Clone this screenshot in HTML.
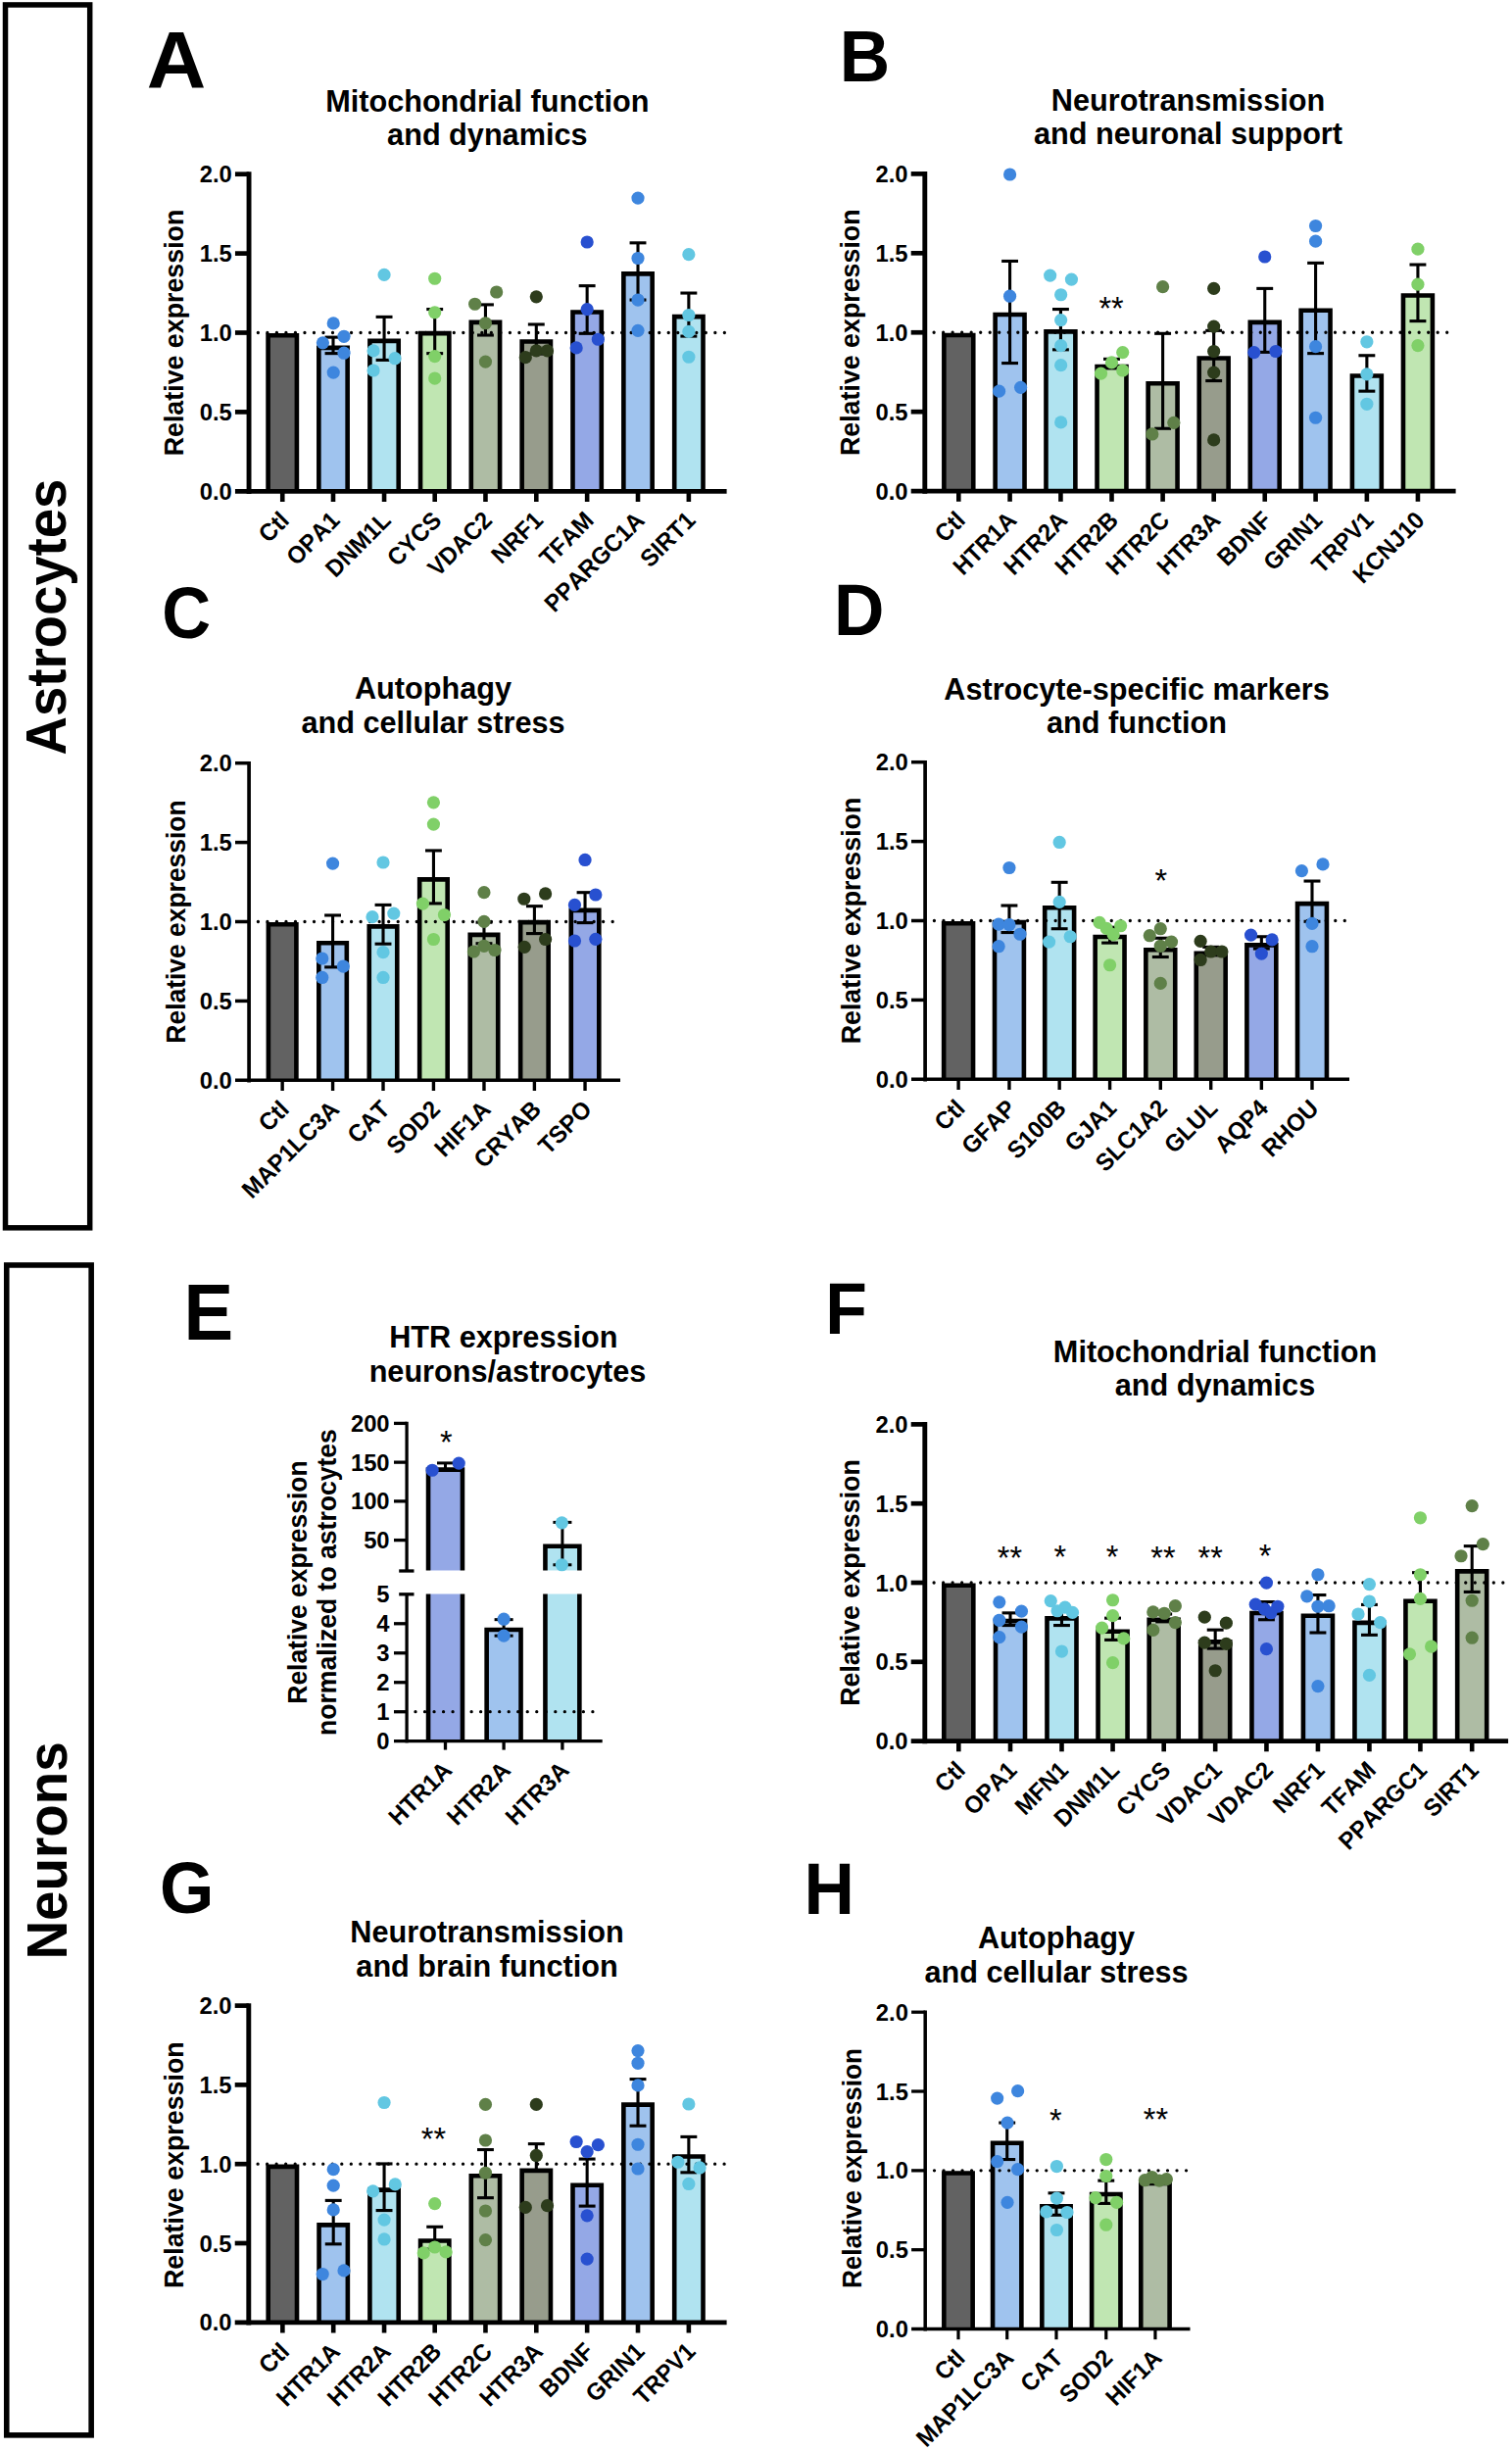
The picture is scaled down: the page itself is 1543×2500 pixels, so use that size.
<!DOCTYPE html>
<html lang="en">
<head>
<meta charset="utf-8">
<title>Figure: Relative expression in astrocytes and neurons</title>
<style>
html,body{margin:0;padding:0;background:#fff;}
body{width:1543px;height:2500px;overflow:hidden;}
svg{display:block;}
svg text{font-kerning:none;font-family:"Liberation Sans",Arial,Helvetica,sans-serif;fill:#000;}
</style>
</head>
<body>
<svg width="1543" height="2500" viewBox="0 0 1543 2500">
<rect x="0" y="0" width="1543" height="2500" fill="#fff"/>
<rect x="5.5" y="4.95" width="86.2" height="1247.9" fill="none" stroke="#000" stroke-width="5.5"/>
<rect x="6.75" y="1290.95" width="86.4" height="1193.9" fill="none" stroke="#000" stroke-width="5.6"/>
<text transform="translate(67,770.4) rotate(-90) scale(1,1.04)" font-size="54.5" font-weight="bold" text-anchor="start">Astrocytes</text>
<text transform="translate(68.1,1999.5) rotate(-90) scale(1,1.06)" font-size="54.8" font-weight="bold" text-anchor="start">Neurons</text>
<rect x="273.6" y="342.2" width="29.3" height="159.1" fill="#626262"/>
<path d="M273.6 501.3V342.2H302.9V501.3" fill="none" stroke="#000" stroke-width="4.6"/>
<rect x="325.35" y="354.89" width="29.3" height="146.41" fill="#9FC3EE"/>
<path d="M325.35 501.3V354.89H354.65V501.3" fill="none" stroke="#000" stroke-width="4.6"/>
<rect x="377.41" y="347.91" width="29.3" height="153.39" fill="#B0E3F0"/>
<path d="M377.41 501.3V347.91H406.71V501.3" fill="none" stroke="#000" stroke-width="4.6"/>
<rect x="429.05" y="340.08" width="29.3" height="161.22" fill="#C0E6B2"/>
<path d="M429.05 501.3V340.08H458.35V501.3" fill="none" stroke="#000" stroke-width="4.6"/>
<rect x="480.8" y="328.86" width="29.3" height="172.44" fill="#AEBCA4"/>
<path d="M480.8 501.3V328.86H510.1V501.3" fill="none" stroke="#000" stroke-width="4.6"/>
<rect x="532.65" y="348.54" width="29.3" height="152.76" fill="#979C8C"/>
<path d="M532.65 501.3V348.54H561.95V501.3" fill="none" stroke="#000" stroke-width="4.6"/>
<rect x="584.5" y="318.49" width="29.3" height="182.81" fill="#94A8E6"/>
<path d="M584.5 501.3V318.49H613.8V501.3" fill="none" stroke="#000" stroke-width="4.6"/>
<rect x="636.36" y="279.34" width="29.3" height="221.96" fill="#9FC3EE"/>
<path d="M636.36 501.3V279.34H665.66V501.3" fill="none" stroke="#000" stroke-width="4.6"/>
<rect x="688.21" y="323.15" width="29.3" height="178.15" fill="#B0E3F0"/>
<path d="M688.21 501.3V323.15H717.51V501.3" fill="none" stroke="#000" stroke-width="4.6"/>
<line x1="263.35" y1="339.5" x2="742.5" y2="339.5" stroke="#000" stroke-width="3.3" stroke-dasharray="0.01 9.51" stroke-linecap="round"/>
<line x1="340" y1="344.13" x2="340" y2="360.63" stroke="#000" stroke-width="3.1" />
<line x1="331.55" y1="344.13" x2="348.45" y2="344.13" stroke="#000" stroke-width="3.1" />
<line x1="331.55" y1="360.63" x2="348.45" y2="360.63" stroke="#000" stroke-width="3.1" />
<line x1="392.06" y1="323.39" x2="392.06" y2="367.41" stroke="#000" stroke-width="3.1" />
<line x1="383.61" y1="323.39" x2="400.51" y2="323.39" stroke="#000" stroke-width="3.1" />
<line x1="383.61" y1="367.41" x2="400.51" y2="367.41" stroke="#000" stroke-width="3.1" />
<line x1="443.7" y1="315.56" x2="443.7" y2="360.63" stroke="#000" stroke-width="3.1" />
<line x1="435.25" y1="315.56" x2="452.15" y2="315.56" stroke="#000" stroke-width="3.1" />
<line x1="435.25" y1="360.63" x2="452.15" y2="360.63" stroke="#000" stroke-width="3.1" />
<line x1="495.45" y1="310.9" x2="495.45" y2="342.01" stroke="#000" stroke-width="3.1" />
<line x1="487" y1="310.9" x2="503.9" y2="310.9" stroke="#000" stroke-width="3.1" />
<line x1="487" y1="342.01" x2="503.9" y2="342.01" stroke="#000" stroke-width="3.1" />
<line x1="547.3" y1="331.01" x2="547.3" y2="361.06" stroke="#000" stroke-width="3.1" />
<line x1="538.85" y1="331.01" x2="555.75" y2="331.01" stroke="#000" stroke-width="3.1" />
<line x1="538.85" y1="361.06" x2="555.75" y2="361.06" stroke="#000" stroke-width="3.1" />
<line x1="599.15" y1="291.64" x2="599.15" y2="340.32" stroke="#000" stroke-width="3.1" />
<line x1="590.7" y1="291.64" x2="607.6" y2="291.64" stroke="#000" stroke-width="3.1" />
<line x1="590.7" y1="340.32" x2="607.6" y2="340.32" stroke="#000" stroke-width="3.1" />
<line x1="651.01" y1="247.83" x2="651.01" y2="306.03" stroke="#000" stroke-width="3.1" />
<line x1="642.56" y1="247.83" x2="659.46" y2="247.83" stroke="#000" stroke-width="3.1" />
<line x1="642.56" y1="306.03" x2="659.46" y2="306.03" stroke="#000" stroke-width="3.1" />
<line x1="702.86" y1="299.05" x2="702.86" y2="343.07" stroke="#000" stroke-width="3.1" />
<line x1="694.41" y1="299.05" x2="711.31" y2="299.05" stroke="#000" stroke-width="3.1" />
<line x1="694.41" y1="343.07" x2="711.31" y2="343.07" stroke="#000" stroke-width="3.1" />
<circle cx="340.21" cy="329.95" r="6.6" fill="#3E86DE"/>
<circle cx="351.01" cy="343.28" r="6.6" fill="#3E86DE"/>
<circle cx="329.42" cy="349.84" r="6.6" fill="#3E86DE"/>
<circle cx="351.01" cy="360.21" r="6.6" fill="#3E86DE"/>
<circle cx="340.21" cy="380.11" r="6.6" fill="#3E86DE"/>
<circle cx="392.06" cy="280.42" r="6.6" fill="#62C7E2"/>
<circle cx="381.06" cy="357.88" r="6.6" fill="#62C7E2"/>
<circle cx="403.07" cy="365.71" r="6.6" fill="#62C7E2"/>
<circle cx="381.06" cy="377.99" r="6.6" fill="#62C7E2"/>
<circle cx="443.7" cy="284.23" r="6.6" fill="#80D068"/>
<circle cx="443.7" cy="318.73" r="6.6" fill="#80D068"/>
<circle cx="443.7" cy="363.6" r="6.6" fill="#80D068"/>
<circle cx="443.7" cy="386.03" r="6.6" fill="#80D068"/>
<circle cx="484.66" cy="310.26" r="6.6" fill="#5F8048"/>
<circle cx="506.67" cy="297.99" r="6.6" fill="#5F8048"/>
<circle cx="495.45" cy="329.74" r="6.6" fill="#5F8048"/>
<circle cx="495.45" cy="369.1" r="6.6" fill="#5F8048"/>
<circle cx="547.3" cy="302.86" r="6.6" fill="#2D3C1C"/>
<circle cx="536.3" cy="364.66" r="6.6" fill="#2D3C1C"/>
<circle cx="547.3" cy="357.88" r="6.6" fill="#2D3C1C"/>
<circle cx="558.52" cy="357.88" r="6.6" fill="#2D3C1C"/>
<circle cx="599.15" cy="246.98" r="6.6" fill="#2850D0"/>
<circle cx="599.15" cy="315.56" r="6.6" fill="#2850D0"/>
<circle cx="610.37" cy="346.24" r="6.6" fill="#2850D0"/>
<circle cx="588.15" cy="354.92" r="6.6" fill="#2850D0"/>
<circle cx="651.01" cy="202.12" r="6.6" fill="#3E86DE"/>
<circle cx="651.01" cy="263.49" r="6.6" fill="#3E86DE"/>
<circle cx="651.01" cy="306.03" r="6.6" fill="#3E86DE"/>
<circle cx="651.01" cy="337.35" r="6.6" fill="#3E86DE"/>
<circle cx="702.86" cy="259.68" r="6.6" fill="#62C7E2"/>
<circle cx="702.86" cy="321.48" r="6.6" fill="#62C7E2"/>
<circle cx="702.86" cy="338.41" r="6.6" fill="#62C7E2"/>
<circle cx="702.86" cy="364.23" r="6.6" fill="#62C7E2"/>
<line x1="254.05" y1="175.35" x2="254.05" y2="504.05" stroke="#000" stroke-width="4.9" />
<line x1="239.95" y1="501.3" x2="741.6" y2="501.3" stroke="#000" stroke-width="4.7" />
<text transform="translate(236.75,509.82) scale(1,1.04)" font-size="23.8" font-weight="bold" text-anchor="end" >0.0</text>
<line x1="239.95" y1="420.4" x2="254.05" y2="420.4" stroke="#000" stroke-width="4.7" />
<text transform="translate(236.75,428.92) scale(1,1.04)" font-size="23.8" font-weight="bold" text-anchor="end" >0.5</text>
<line x1="239.95" y1="339.5" x2="254.05" y2="339.5" stroke="#000" stroke-width="4.7" />
<text transform="translate(236.75,348.02) scale(1,1.04)" font-size="23.8" font-weight="bold" text-anchor="end" >1.0</text>
<line x1="239.95" y1="258.6" x2="254.05" y2="258.6" stroke="#000" stroke-width="4.7" />
<text transform="translate(236.75,267.12) scale(1,1.04)" font-size="23.8" font-weight="bold" text-anchor="end" >1.5</text>
<line x1="239.95" y1="177.7" x2="254.05" y2="177.7" stroke="#000" stroke-width="4.7" />
<text transform="translate(236.75,186.22) scale(1,1.04)" font-size="23.8" font-weight="bold" text-anchor="end" >2.0</text>
<line x1="288.25" y1="501.3" x2="288.25" y2="512" stroke="#000" stroke-width="4.6" />
<text transform="translate(296.45,532.5) rotate(-45) scale(1,1.04)" font-size="23.8" font-weight="bold" text-anchor="end">Ctl</text>
<line x1="340" y1="501.3" x2="340" y2="512" stroke="#000" stroke-width="4.6" />
<text transform="translate(348.2,532.5) rotate(-45) scale(1,1.04)" font-size="23.8" font-weight="bold" text-anchor="end">OPA1</text>
<line x1="392.06" y1="501.3" x2="392.06" y2="512" stroke="#000" stroke-width="4.6" />
<text transform="translate(400.26,532.5) rotate(-45) scale(1,1.04)" font-size="23.8" font-weight="bold" text-anchor="end">DNM1L</text>
<line x1="443.7" y1="501.3" x2="443.7" y2="512" stroke="#000" stroke-width="4.6" />
<text transform="translate(451.9,532.5) rotate(-45) scale(1,1.04)" font-size="23.8" font-weight="bold" text-anchor="end">CYCS</text>
<line x1="495.45" y1="501.3" x2="495.45" y2="512" stroke="#000" stroke-width="4.6" />
<text transform="translate(503.65,532.5) rotate(-45) scale(1,1.04)" font-size="23.8" font-weight="bold" text-anchor="end">VDAC2</text>
<line x1="547.3" y1="501.3" x2="547.3" y2="512" stroke="#000" stroke-width="4.6" />
<text transform="translate(555.5,532.5) rotate(-45) scale(1,1.04)" font-size="23.8" font-weight="bold" text-anchor="end">NRF1</text>
<line x1="599.15" y1="501.3" x2="599.15" y2="512" stroke="#000" stroke-width="4.6" />
<text transform="translate(607.35,532.5) rotate(-45) scale(1,1.04)" font-size="23.8" font-weight="bold" text-anchor="end">TFAM</text>
<line x1="651.01" y1="501.3" x2="651.01" y2="512" stroke="#000" stroke-width="4.6" />
<text transform="translate(659.21,532.5) rotate(-45) scale(1,1.04)" font-size="23.8" font-weight="bold" text-anchor="end">PPARGC1A</text>
<line x1="702.86" y1="501.3" x2="702.86" y2="512" stroke="#000" stroke-width="4.6" />
<text transform="translate(711.06,532.5) rotate(-45) scale(1,1.04)" font-size="23.8" font-weight="bold" text-anchor="end">SIRT1</text>
<text transform="translate(187.3,339.5) rotate(-90) scale(1,1.04)" font-size="26.8" font-weight="bold" text-anchor="middle">Relative expression</text>
<text transform="translate(497.3,113.75) scale(1,1.04)" font-size="30.66" font-weight="bold" text-anchor="middle" >Mitochondrial function</text>
<text transform="translate(497.3,148.35) scale(1,1.04)" font-size="30.66" font-weight="bold" text-anchor="middle" >and dynamics</text>
<text transform="translate(149.7,89.4) scale(1.07,1.04)" font-size="78.3" font-weight="bold">A</text>
<rect x="963.36" y="341.95" width="29.9" height="159.15" fill="#626262"/>
<path d="M963.36 501.1V341.95H993.26V501.1" fill="none" stroke="#000" stroke-width="4.6"/>
<rect x="1015.63" y="321.03" width="29.9" height="180.07" fill="#9FC3EE"/>
<path d="M1015.63 501.1V321.03H1045.53V501.1" fill="none" stroke="#000" stroke-width="4.6"/>
<rect x="1067.48" y="338.38" width="29.9" height="162.72" fill="#B0E3F0"/>
<path d="M1067.48 501.1V338.38H1097.38V501.1" fill="none" stroke="#000" stroke-width="4.6"/>
<rect x="1119.55" y="373.94" width="29.9" height="127.16" fill="#C0E6B2"/>
<path d="M1119.55 501.1V373.94H1149.45V501.1" fill="none" stroke="#000" stroke-width="4.6"/>
<rect x="1171.66" y="391.29" width="29.9" height="109.81" fill="#AEBCA4"/>
<path d="M1171.66 501.1V391.29H1201.56V501.1" fill="none" stroke="#000" stroke-width="4.6"/>
<rect x="1223.73" y="365.47" width="29.9" height="135.63" fill="#979C8C"/>
<path d="M1223.73 501.1V365.47H1253.63V501.1" fill="none" stroke="#000" stroke-width="4.6"/>
<rect x="1275.79" y="328.86" width="29.9" height="172.24" fill="#94A8E6"/>
<path d="M1275.79 501.1V328.86H1305.69V501.1" fill="none" stroke="#000" stroke-width="4.6"/>
<rect x="1327.64" y="316.8" width="29.9" height="184.3" fill="#9FC3EE"/>
<path d="M1327.64 501.1V316.8H1357.54V501.1" fill="none" stroke="#000" stroke-width="4.6"/>
<rect x="1379.92" y="383.46" width="29.9" height="117.64" fill="#B0E3F0"/>
<path d="M1379.92 501.1V383.46H1409.82V501.1" fill="none" stroke="#000" stroke-width="4.6"/>
<rect x="1431.98" y="301.56" width="29.9" height="199.54" fill="#C0E6B2"/>
<path d="M1431.98 501.1V301.56H1461.88V501.1" fill="none" stroke="#000" stroke-width="4.6"/>
<line x1="953.1" y1="339.25" x2="1484" y2="339.25" stroke="#000" stroke-width="3.3" stroke-dasharray="0.01 9.51" stroke-linecap="round"/>
<line x1="1030.58" y1="266.46" x2="1030.58" y2="370.58" stroke="#000" stroke-width="3.1" />
<line x1="1022.13" y1="266.46" x2="1039.03" y2="266.46" stroke="#000" stroke-width="3.1" />
<line x1="1022.13" y1="370.58" x2="1039.03" y2="370.58" stroke="#000" stroke-width="3.1" />
<line x1="1082.43" y1="315.56" x2="1082.43" y2="356.83" stroke="#000" stroke-width="3.1" />
<line x1="1073.98" y1="315.56" x2="1090.88" y2="315.56" stroke="#000" stroke-width="3.1" />
<line x1="1073.98" y1="356.83" x2="1090.88" y2="356.83" stroke="#000" stroke-width="3.1" />
<line x1="1134.5" y1="366.35" x2="1134.5" y2="375.87" stroke="#000" stroke-width="3.1" />
<line x1="1126.05" y1="366.35" x2="1142.95" y2="366.35" stroke="#000" stroke-width="3.1" />
<line x1="1126.05" y1="375.87" x2="1142.95" y2="375.87" stroke="#000" stroke-width="3.1" />
<line x1="1186.61" y1="340.32" x2="1186.61" y2="437.25" stroke="#000" stroke-width="3.1" />
<line x1="1178.16" y1="340.32" x2="1195.06" y2="340.32" stroke="#000" stroke-width="3.1" />
<line x1="1178.16" y1="437.25" x2="1195.06" y2="437.25" stroke="#000" stroke-width="3.1" />
<line x1="1238.68" y1="337.35" x2="1238.68" y2="388.57" stroke="#000" stroke-width="3.1" />
<line x1="1230.23" y1="337.35" x2="1247.13" y2="337.35" stroke="#000" stroke-width="3.1" />
<line x1="1230.23" y1="388.57" x2="1247.13" y2="388.57" stroke="#000" stroke-width="3.1" />
<line x1="1290.74" y1="294.39" x2="1290.74" y2="359.37" stroke="#000" stroke-width="3.1" />
<line x1="1282.29" y1="294.39" x2="1299.19" y2="294.39" stroke="#000" stroke-width="3.1" />
<line x1="1282.29" y1="359.37" x2="1299.19" y2="359.37" stroke="#000" stroke-width="3.1" />
<line x1="1342.59" y1="268.36" x2="1342.59" y2="360.63" stroke="#000" stroke-width="3.1" />
<line x1="1334.14" y1="268.36" x2="1351.04" y2="268.36" stroke="#000" stroke-width="3.1" />
<line x1="1334.14" y1="360.63" x2="1351.04" y2="360.63" stroke="#000" stroke-width="3.1" />
<line x1="1394.87" y1="362.75" x2="1394.87" y2="399.15" stroke="#000" stroke-width="3.1" />
<line x1="1386.42" y1="362.75" x2="1403.32" y2="362.75" stroke="#000" stroke-width="3.1" />
<line x1="1386.42" y1="399.15" x2="1403.32" y2="399.15" stroke="#000" stroke-width="3.1" />
<line x1="1446.93" y1="270.05" x2="1446.93" y2="327.62" stroke="#000" stroke-width="3.1" />
<line x1="1438.48" y1="270.05" x2="1455.38" y2="270.05" stroke="#000" stroke-width="3.1" />
<line x1="1438.48" y1="327.62" x2="1455.38" y2="327.62" stroke="#000" stroke-width="3.1" />
<circle cx="1030.58" cy="177.99" r="6.6" fill="#3E86DE"/>
<circle cx="1030.58" cy="302.22" r="6.6" fill="#3E86DE"/>
<circle cx="1019.58" cy="399.15" r="6.6" fill="#3E86DE"/>
<circle cx="1041.59" cy="395.34" r="6.6" fill="#3E86DE"/>
<circle cx="1071.64" cy="281.06" r="6.6" fill="#62C7E2"/>
<circle cx="1093.44" cy="285.08" r="6.6" fill="#62C7E2"/>
<circle cx="1082.65" cy="300.74" r="6.6" fill="#62C7E2"/>
<circle cx="1082.65" cy="326.56" r="6.6" fill="#62C7E2"/>
<circle cx="1082.65" cy="352.59" r="6.6" fill="#62C7E2"/>
<circle cx="1082.65" cy="372.7" r="6.6" fill="#62C7E2"/>
<circle cx="1082.65" cy="430.9" r="6.6" fill="#62C7E2"/>
<circle cx="1145.71" cy="359.58" r="6.6" fill="#80D068"/>
<circle cx="1134.5" cy="369.95" r="6.6" fill="#80D068"/>
<circle cx="1123.49" cy="381.16" r="6.6" fill="#80D068"/>
<circle cx="1145.71" cy="377.99" r="6.6" fill="#80D068"/>
<circle cx="1186.61" cy="292.7" r="6.6" fill="#5F8048"/>
<circle cx="1197.83" cy="431.32" r="6.6" fill="#5F8048"/>
<circle cx="1175.82" cy="442.96" r="6.6" fill="#5F8048"/>
<circle cx="1238.68" cy="294.39" r="6.6" fill="#2D3C1C"/>
<circle cx="1238.68" cy="333.12" r="6.6" fill="#2D3C1C"/>
<circle cx="1238.68" cy="358.52" r="6.6" fill="#2D3C1C"/>
<circle cx="1238.68" cy="380.11" r="6.6" fill="#2D3C1C"/>
<circle cx="1238.68" cy="448.89" r="6.6" fill="#2D3C1C"/>
<circle cx="1290.74" cy="262.01" r="6.6" fill="#2850D0"/>
<circle cx="1279.74" cy="359.58" r="6.6" fill="#2850D0"/>
<circle cx="1301.96" cy="358.52" r="6.6" fill="#2850D0"/>
<circle cx="1342.59" cy="230.48" r="6.6" fill="#3E86DE"/>
<circle cx="1342.59" cy="246.14" r="6.6" fill="#3E86DE"/>
<circle cx="1342.59" cy="353.65" r="6.6" fill="#3E86DE"/>
<circle cx="1342.59" cy="426.24" r="6.6" fill="#3E86DE"/>
<circle cx="1394.87" cy="348.78" r="6.6" fill="#62C7E2"/>
<circle cx="1394.87" cy="381.8" r="6.6" fill="#62C7E2"/>
<circle cx="1394.87" cy="412.28" r="6.6" fill="#62C7E2"/>
<circle cx="1446.93" cy="254.18" r="6.6" fill="#80D068"/>
<circle cx="1446.93" cy="290.16" r="6.6" fill="#80D068"/>
<circle cx="1446.93" cy="352.59" r="6.6" fill="#80D068"/>
<line x1="943.8" y1="175.05" x2="943.8" y2="503.85" stroke="#000" stroke-width="4.9" />
<line x1="929.7" y1="501.1" x2="1485.6" y2="501.1" stroke="#000" stroke-width="4.7" />
<text transform="translate(926.5,509.62) scale(1,1.04)" font-size="23.8" font-weight="bold" text-anchor="end" >0.0</text>
<line x1="929.7" y1="420.18" x2="943.8" y2="420.18" stroke="#000" stroke-width="4.7" />
<text transform="translate(926.5,428.7) scale(1,1.04)" font-size="23.8" font-weight="bold" text-anchor="end" >0.5</text>
<line x1="929.7" y1="339.25" x2="943.8" y2="339.25" stroke="#000" stroke-width="4.7" />
<text transform="translate(926.5,347.77) scale(1,1.04)" font-size="23.8" font-weight="bold" text-anchor="end" >1.0</text>
<line x1="929.7" y1="258.32" x2="943.8" y2="258.32" stroke="#000" stroke-width="4.7" />
<text transform="translate(926.5,266.85) scale(1,1.04)" font-size="23.8" font-weight="bold" text-anchor="end" >1.5</text>
<line x1="929.7" y1="177.4" x2="943.8" y2="177.4" stroke="#000" stroke-width="4.7" />
<text transform="translate(926.5,185.92) scale(1,1.04)" font-size="23.8" font-weight="bold" text-anchor="end" >2.0</text>
<line x1="978.31" y1="501.1" x2="978.31" y2="511.8" stroke="#000" stroke-width="4.6" />
<text transform="translate(986.51,532.3) rotate(-45) scale(1,1.04)" font-size="23.8" font-weight="bold" text-anchor="end">Ctl</text>
<line x1="1030.58" y1="501.1" x2="1030.58" y2="511.8" stroke="#000" stroke-width="4.6" />
<text transform="translate(1038.78,532.3) rotate(-45) scale(1,1.04)" font-size="23.8" font-weight="bold" text-anchor="end">HTR1A</text>
<line x1="1082.43" y1="501.1" x2="1082.43" y2="511.8" stroke="#000" stroke-width="4.6" />
<text transform="translate(1090.63,532.3) rotate(-45) scale(1,1.04)" font-size="23.8" font-weight="bold" text-anchor="end">HTR2A</text>
<line x1="1134.5" y1="501.1" x2="1134.5" y2="511.8" stroke="#000" stroke-width="4.6" />
<text transform="translate(1142.7,532.3) rotate(-45) scale(1,1.04)" font-size="23.8" font-weight="bold" text-anchor="end">HTR2B</text>
<line x1="1186.61" y1="501.1" x2="1186.61" y2="511.8" stroke="#000" stroke-width="4.6" />
<text transform="translate(1194.81,532.3) rotate(-45) scale(1,1.04)" font-size="23.8" font-weight="bold" text-anchor="end">HTR2C</text>
<line x1="1238.68" y1="501.1" x2="1238.68" y2="511.8" stroke="#000" stroke-width="4.6" />
<text transform="translate(1246.88,532.3) rotate(-45) scale(1,1.04)" font-size="23.8" font-weight="bold" text-anchor="end">HTR3A</text>
<line x1="1290.74" y1="501.1" x2="1290.74" y2="511.8" stroke="#000" stroke-width="4.6" />
<text transform="translate(1298.94,532.3) rotate(-45) scale(1,1.04)" font-size="23.8" font-weight="bold" text-anchor="end">BDNF</text>
<line x1="1342.59" y1="501.1" x2="1342.59" y2="511.8" stroke="#000" stroke-width="4.6" />
<text transform="translate(1350.79,532.3) rotate(-45) scale(1,1.04)" font-size="23.8" font-weight="bold" text-anchor="end">GRIN1</text>
<line x1="1394.87" y1="501.1" x2="1394.87" y2="511.8" stroke="#000" stroke-width="4.6" />
<text transform="translate(1403.07,532.3) rotate(-45) scale(1,1.04)" font-size="23.8" font-weight="bold" text-anchor="end">TRPV1</text>
<line x1="1446.93" y1="501.1" x2="1446.93" y2="511.8" stroke="#000" stroke-width="4.6" />
<text transform="translate(1455.13,532.3) rotate(-45) scale(1,1.04)" font-size="23.8" font-weight="bold" text-anchor="end">KCNJ10</text>
<text transform="translate(877.3,339.25) rotate(-90) scale(1,1.04)" font-size="26.8" font-weight="bold" text-anchor="middle">Relative expression</text>
<text transform="translate(1212.5,112.5) scale(1,1.04)" font-size="30.66" font-weight="bold" text-anchor="middle" >Neurotransmission</text>
<text transform="translate(1212.5,147.1) scale(1,1.04)" font-size="30.66" font-weight="bold" text-anchor="middle" >and neuronal support</text>
<text transform="translate(856.8,82.8) scale(1,1.04)" font-size="71.2" font-weight="bold">B</text>
<text transform="translate(1134.07,325.86) scale(1,1)" font-size="32.5" font-weight="normal" text-anchor="middle" >**</text>
<rect x="273.9" y="943.2" width="28.5" height="159.1" fill="#626262"/>
<path d="M273.9 1102.3V943.2H302.4V1102.3" fill="none" stroke="#000" stroke-width="4.6"/>
<rect x="325.33" y="962.3" width="28.5" height="140" fill="#9FC3EE"/>
<path d="M325.33 1102.3V962.3H353.83V1102.3" fill="none" stroke="#000" stroke-width="4.6"/>
<rect x="376.76" y="945.37" width="28.5" height="156.93" fill="#B0E3F0"/>
<path d="M376.76 1102.3V945.37H405.26V1102.3" fill="none" stroke="#000" stroke-width="4.6"/>
<rect x="428.18" y="897.33" width="28.5" height="204.97" fill="#C0E6B2"/>
<path d="M428.18 1102.3V897.33H456.68V1102.3" fill="none" stroke="#000" stroke-width="4.6"/>
<rect x="479.72" y="953.83" width="28.5" height="148.47" fill="#AEBCA4"/>
<path d="M479.72 1102.3V953.83H508.22V1102.3" fill="none" stroke="#000" stroke-width="4.6"/>
<rect x="531.15" y="941.14" width="28.5" height="161.16" fill="#979C8C"/>
<path d="M531.15 1102.3V941.14H559.65V1102.3" fill="none" stroke="#000" stroke-width="4.6"/>
<rect x="582.79" y="928.86" width="28.5" height="173.44" fill="#94A8E6"/>
<path d="M582.79 1102.3V928.86H611.29V1102.3" fill="none" stroke="#000" stroke-width="4.6"/>
<line x1="263.4" y1="940.5" x2="629" y2="940.5" stroke="#000" stroke-width="3.3" stroke-dasharray="0.01 9.51" stroke-linecap="round"/>
<line x1="339.58" y1="933.97" x2="339.58" y2="986.88" stroke="#000" stroke-width="3.1" />
<line x1="331.13" y1="933.97" x2="348.03" y2="933.97" stroke="#000" stroke-width="3.1" />
<line x1="331.13" y1="986.88" x2="348.03" y2="986.88" stroke="#000" stroke-width="3.1" />
<line x1="391.01" y1="923.39" x2="391.01" y2="963.17" stroke="#000" stroke-width="3.1" />
<line x1="382.56" y1="923.39" x2="399.46" y2="923.39" stroke="#000" stroke-width="3.1" />
<line x1="382.56" y1="963.17" x2="399.46" y2="963.17" stroke="#000" stroke-width="3.1" />
<line x1="442.43" y1="867.94" x2="442.43" y2="921.9" stroke="#000" stroke-width="3.1" />
<line x1="433.98" y1="867.94" x2="450.88" y2="867.94" stroke="#000" stroke-width="3.1" />
<line x1="433.98" y1="921.9" x2="450.88" y2="921.9" stroke="#000" stroke-width="3.1" />
<line x1="493.97" y1="941.16" x2="493.97" y2="962.75" stroke="#000" stroke-width="3.1" />
<line x1="485.52" y1="941.16" x2="502.42" y2="941.16" stroke="#000" stroke-width="3.1" />
<line x1="485.52" y1="962.75" x2="502.42" y2="962.75" stroke="#000" stroke-width="3.1" />
<line x1="545.4" y1="924.66" x2="545.4" y2="952.59" stroke="#000" stroke-width="3.1" />
<line x1="536.95" y1="924.66" x2="553.85" y2="924.66" stroke="#000" stroke-width="3.1" />
<line x1="536.95" y1="952.59" x2="553.85" y2="952.59" stroke="#000" stroke-width="3.1" />
<line x1="597.04" y1="910.69" x2="597.04" y2="941.59" stroke="#000" stroke-width="3.1" />
<line x1="588.59" y1="910.69" x2="605.49" y2="910.69" stroke="#000" stroke-width="3.1" />
<line x1="588.59" y1="941.59" x2="605.49" y2="941.59" stroke="#000" stroke-width="3.1" />
<circle cx="339.58" cy="881.06" r="6.6" fill="#3E86DE"/>
<circle cx="328.78" cy="977.99" r="6.6" fill="#3E86DE"/>
<circle cx="350.37" cy="986.03" r="6.6" fill="#3E86DE"/>
<circle cx="328.78" cy="997.46" r="6.6" fill="#3E86DE"/>
<circle cx="391.01" cy="880" r="6.6" fill="#62C7E2"/>
<circle cx="380" cy="935.66" r="6.6" fill="#62C7E2"/>
<circle cx="401.8" cy="932.06" r="6.6" fill="#62C7E2"/>
<circle cx="391.01" cy="971.64" r="6.6" fill="#62C7E2"/>
<circle cx="391.01" cy="997.46" r="6.6" fill="#62C7E2"/>
<circle cx="442.43" cy="818.84" r="6.6" fill="#80D068"/>
<circle cx="442.43" cy="841.06" r="6.6" fill="#80D068"/>
<circle cx="431.43" cy="922.12" r="6.6" fill="#80D068"/>
<circle cx="453.44" cy="933.54" r="6.6" fill="#80D068"/>
<circle cx="442.43" cy="958.52" r="6.6" fill="#80D068"/>
<circle cx="493.97" cy="910.69" r="6.6" fill="#5F8048"/>
<circle cx="493.97" cy="940.32" r="6.6" fill="#5F8048"/>
<circle cx="493.97" cy="965.29" r="6.6" fill="#5F8048"/>
<circle cx="483.39" cy="971.01" r="6.6" fill="#5F8048"/>
<circle cx="504.97" cy="969.52" r="6.6" fill="#5F8048"/>
<circle cx="534.81" cy="917.25" r="6.6" fill="#2D3C1C"/>
<circle cx="556.61" cy="911.96" r="6.6" fill="#2D3C1C"/>
<circle cx="556.61" cy="958.52" r="6.6" fill="#2D3C1C"/>
<circle cx="535.24" cy="966.35" r="6.6" fill="#2D3C1C"/>
<circle cx="597.04" cy="877.46" r="6.6" fill="#2850D0"/>
<circle cx="607.83" cy="913.02" r="6.6" fill="#2850D0"/>
<circle cx="586.46" cy="923.39" r="6.6" fill="#2850D0"/>
<circle cx="586.46" cy="960" r="6.6" fill="#2850D0"/>
<circle cx="607.83" cy="958.31" r="6.6" fill="#2850D0"/>
<line x1="254.1" y1="776.95" x2="254.1" y2="1104.45" stroke="#000" stroke-width="3.7" />
<line x1="240" y1="1102.3" x2="633" y2="1102.3" stroke="#000" stroke-width="3.5" />
<text transform="translate(236.8,1110.82) scale(1,1.04)" font-size="23.8" font-weight="bold" text-anchor="end" >0.0</text>
<line x1="240" y1="1021.4" x2="254.1" y2="1021.4" stroke="#000" stroke-width="3.5" />
<text transform="translate(236.8,1029.92) scale(1,1.04)" font-size="23.8" font-weight="bold" text-anchor="end" >0.5</text>
<line x1="240" y1="940.5" x2="254.1" y2="940.5" stroke="#000" stroke-width="3.5" />
<text transform="translate(236.8,949.02) scale(1,1.04)" font-size="23.8" font-weight="bold" text-anchor="end" >1.0</text>
<line x1="240" y1="859.6" x2="254.1" y2="859.6" stroke="#000" stroke-width="3.5" />
<text transform="translate(236.8,868.12) scale(1,1.04)" font-size="23.8" font-weight="bold" text-anchor="end" >1.5</text>
<line x1="240" y1="778.7" x2="254.1" y2="778.7" stroke="#000" stroke-width="3.5" />
<text transform="translate(236.8,787.22) scale(1,1.04)" font-size="23.8" font-weight="bold" text-anchor="end" >2.0</text>
<line x1="288.15" y1="1102.3" x2="288.15" y2="1113" stroke="#000" stroke-width="3.4" />
<text transform="translate(296.35,1133.5) rotate(-45) scale(1,1.04)" font-size="23.8" font-weight="bold" text-anchor="end">Ctl</text>
<line x1="339.58" y1="1102.3" x2="339.58" y2="1113" stroke="#000" stroke-width="3.4" />
<text transform="translate(347.78,1133.5) rotate(-45) scale(1,1.04)" font-size="23.8" font-weight="bold" text-anchor="end">MAP1LC3A</text>
<line x1="391.01" y1="1102.3" x2="391.01" y2="1113" stroke="#000" stroke-width="3.4" />
<text transform="translate(399.21,1133.5) rotate(-45) scale(1,1.04)" font-size="23.8" font-weight="bold" text-anchor="end">CAT</text>
<line x1="442.43" y1="1102.3" x2="442.43" y2="1113" stroke="#000" stroke-width="3.4" />
<text transform="translate(450.63,1133.5) rotate(-45) scale(1,1.04)" font-size="23.8" font-weight="bold" text-anchor="end">SOD2</text>
<line x1="493.97" y1="1102.3" x2="493.97" y2="1113" stroke="#000" stroke-width="3.4" />
<text transform="translate(502.17,1133.5) rotate(-45) scale(1,1.04)" font-size="23.8" font-weight="bold" text-anchor="end">HIF1A</text>
<line x1="545.4" y1="1102.3" x2="545.4" y2="1113" stroke="#000" stroke-width="3.4" />
<text transform="translate(553.6,1133.5) rotate(-45) scale(1,1.04)" font-size="23.8" font-weight="bold" text-anchor="end">CRYAB</text>
<line x1="597.04" y1="1102.3" x2="597.04" y2="1113" stroke="#000" stroke-width="3.4" />
<text transform="translate(605.24,1133.5) rotate(-45) scale(1,1.04)" font-size="23.8" font-weight="bold" text-anchor="end">TSPO</text>
<text transform="translate(188.7,940.5) rotate(-90) scale(1,1.04)" font-size="26.45" font-weight="bold" text-anchor="middle">Relative expression</text>
<text transform="translate(442,713.3) scale(1,1.04)" font-size="30.66" font-weight="bold" text-anchor="middle" >Autophagy</text>
<text transform="translate(442,747.9) scale(1,1.04)" font-size="30.66" font-weight="bold" text-anchor="middle" >and cellular stress</text>
<text transform="translate(165.3,650.5) scale(0.97,1.04)" font-size="71.2" font-weight="bold">C</text>
<rect x="963.15" y="942.2" width="29.9" height="159.1" fill="#626262"/>
<path d="M963.15 1101.3V942.2H993.05V1101.3" fill="none" stroke="#000" stroke-width="4.6"/>
<rect x="1015" y="941.14" width="29.9" height="160.16" fill="#9FC3EE"/>
<path d="M1015 1101.3V941.14H1044.9V1101.3" fill="none" stroke="#000" stroke-width="4.6"/>
<rect x="1066.21" y="926.32" width="29.9" height="174.98" fill="#B0E3F0"/>
<path d="M1066.21 1101.3V926.32H1096.11V1101.3" fill="none" stroke="#000" stroke-width="4.6"/>
<rect x="1117.64" y="955.95" width="29.9" height="145.35" fill="#C0E6B2"/>
<path d="M1117.64 1101.3V955.95H1147.54V1101.3" fill="none" stroke="#000" stroke-width="4.6"/>
<rect x="1169.34" y="969.28" width="29.9" height="132.02" fill="#AEBCA4"/>
<path d="M1169.34 1101.3V969.28H1199.24V1101.3" fill="none" stroke="#000" stroke-width="4.6"/>
<rect x="1220.76" y="972.88" width="29.9" height="128.42" fill="#979C8C"/>
<path d="M1220.76 1101.3V972.88H1250.66V1101.3" fill="none" stroke="#000" stroke-width="4.6"/>
<rect x="1272.4" y="964.42" width="29.9" height="136.88" fill="#94A8E6"/>
<path d="M1272.4 1101.3V964.42H1302.3V1101.3" fill="none" stroke="#000" stroke-width="4.6"/>
<rect x="1324.04" y="922.09" width="29.9" height="179.21" fill="#9FC3EE"/>
<path d="M1324.04 1101.3V922.09H1353.94V1101.3" fill="none" stroke="#000" stroke-width="4.6"/>
<line x1="953.4" y1="939.5" x2="1376" y2="939.5" stroke="#000" stroke-width="3.3" stroke-dasharray="0.01 9.51" stroke-linecap="round"/>
<line x1="1029.95" y1="924.02" x2="1029.95" y2="951.53" stroke="#000" stroke-width="3.1" />
<line x1="1021.5" y1="924.02" x2="1038.4" y2="924.02" stroke="#000" stroke-width="3.1" />
<line x1="1021.5" y1="951.53" x2="1038.4" y2="951.53" stroke="#000" stroke-width="3.1" />
<line x1="1081.16" y1="900.32" x2="1081.16" y2="947.72" stroke="#000" stroke-width="3.1" />
<line x1="1072.71" y1="900.32" x2="1089.61" y2="900.32" stroke="#000" stroke-width="3.1" />
<line x1="1072.71" y1="947.72" x2="1089.61" y2="947.72" stroke="#000" stroke-width="3.1" />
<line x1="1132.59" y1="946.24" x2="1132.59" y2="962.12" stroke="#000" stroke-width="3.1" />
<line x1="1124.14" y1="946.24" x2="1141.04" y2="946.24" stroke="#000" stroke-width="3.1" />
<line x1="1124.14" y1="962.12" x2="1141.04" y2="962.12" stroke="#000" stroke-width="3.1" />
<line x1="1184.29" y1="957.25" x2="1184.29" y2="976.51" stroke="#000" stroke-width="3.1" />
<line x1="1175.84" y1="957.25" x2="1192.74" y2="957.25" stroke="#000" stroke-width="3.1" />
<line x1="1175.84" y1="976.51" x2="1192.74" y2="976.51" stroke="#000" stroke-width="3.1" />
<line x1="1235.71" y1="966.35" x2="1235.71" y2="974.81" stroke="#000" stroke-width="3.1" />
<line x1="1227.26" y1="966.35" x2="1244.16" y2="966.35" stroke="#000" stroke-width="3.1" />
<line x1="1227.26" y1="974.81" x2="1244.16" y2="974.81" stroke="#000" stroke-width="3.1" />
<line x1="1287.35" y1="955.77" x2="1287.35" y2="968.04" stroke="#000" stroke-width="3.1" />
<line x1="1278.9" y1="955.77" x2="1295.8" y2="955.77" stroke="#000" stroke-width="3.1" />
<line x1="1278.9" y1="968.04" x2="1295.8" y2="968.04" stroke="#000" stroke-width="3.1" />
<line x1="1338.99" y1="899.05" x2="1338.99" y2="940.32" stroke="#000" stroke-width="3.1" />
<line x1="1330.54" y1="899.05" x2="1347.44" y2="899.05" stroke="#000" stroke-width="3.1" />
<line x1="1330.54" y1="940.32" x2="1347.44" y2="940.32" stroke="#000" stroke-width="3.1" />
<circle cx="1029.95" cy="885.5" r="6.6" fill="#3E86DE"/>
<circle cx="1019.15" cy="943.07" r="6.6" fill="#3E86DE"/>
<circle cx="1029.95" cy="943.7" r="6.6" fill="#3E86DE"/>
<circle cx="1040.95" cy="953.23" r="6.6" fill="#3E86DE"/>
<circle cx="1019.15" cy="965.71" r="6.6" fill="#3E86DE"/>
<circle cx="1081.16" cy="859.47" r="6.6" fill="#62C7E2"/>
<circle cx="1081.16" cy="920.42" r="6.6" fill="#62C7E2"/>
<circle cx="1092.17" cy="955.77" r="6.6" fill="#62C7E2"/>
<circle cx="1070.58" cy="961.06" r="6.6" fill="#62C7E2"/>
<circle cx="1122.01" cy="941.38" r="6.6" fill="#80D068"/>
<circle cx="1143.6" cy="944.76" r="6.6" fill="#80D068"/>
<circle cx="1129.21" cy="947.3" r="6.6" fill="#80D068"/>
<circle cx="1136.19" cy="953.65" r="6.6" fill="#80D068"/>
<circle cx="1132.59" cy="984.76" r="6.6" fill="#80D068"/>
<circle cx="1184.29" cy="947.72" r="6.6" fill="#5F8048"/>
<circle cx="1173.28" cy="954.71" r="6.6" fill="#5F8048"/>
<circle cx="1195.5" cy="961.06" r="6.6" fill="#5F8048"/>
<circle cx="1184.29" cy="965.29" r="6.6" fill="#5F8048"/>
<circle cx="1184.29" cy="1003.39" r="6.6" fill="#5F8048"/>
<circle cx="1225.13" cy="960.42" r="6.6" fill="#2D3C1C"/>
<circle cx="1235.71" cy="971.01" r="6.6" fill="#2D3C1C"/>
<circle cx="1246.93" cy="971.01" r="6.6" fill="#2D3C1C"/>
<circle cx="1225.13" cy="979.47" r="6.6" fill="#2D3C1C"/>
<circle cx="1276.56" cy="954.07" r="6.6" fill="#2850D0"/>
<circle cx="1298.15" cy="958.94" r="6.6" fill="#2850D0"/>
<circle cx="1287.35" cy="973.12" r="6.6" fill="#2850D0"/>
<circle cx="1328.41" cy="888.68" r="6.6" fill="#3E86DE"/>
<circle cx="1350" cy="881.9" r="6.6" fill="#3E86DE"/>
<circle cx="1338.99" cy="942.43" r="6.6" fill="#3E86DE"/>
<circle cx="1338.99" cy="965.71" r="6.6" fill="#3E86DE"/>
<line x1="944.1" y1="775.95" x2="944.1" y2="1103.45" stroke="#000" stroke-width="3.7" />
<line x1="930" y1="1101.3" x2="1377" y2="1101.3" stroke="#000" stroke-width="3.5" />
<text transform="translate(926.8,1109.82) scale(1,1.04)" font-size="23.8" font-weight="bold" text-anchor="end" >0.0</text>
<line x1="930" y1="1020.4" x2="944.1" y2="1020.4" stroke="#000" stroke-width="3.5" />
<text transform="translate(926.8,1028.92) scale(1,1.04)" font-size="23.8" font-weight="bold" text-anchor="end" >0.5</text>
<line x1="930" y1="939.5" x2="944.1" y2="939.5" stroke="#000" stroke-width="3.5" />
<text transform="translate(926.8,948.02) scale(1,1.04)" font-size="23.8" font-weight="bold" text-anchor="end" >1.0</text>
<line x1="930" y1="858.6" x2="944.1" y2="858.6" stroke="#000" stroke-width="3.5" />
<text transform="translate(926.8,867.12) scale(1,1.04)" font-size="23.8" font-weight="bold" text-anchor="end" >1.5</text>
<line x1="930" y1="777.7" x2="944.1" y2="777.7" stroke="#000" stroke-width="3.5" />
<text transform="translate(926.8,786.22) scale(1,1.04)" font-size="23.8" font-weight="bold" text-anchor="end" >2.0</text>
<line x1="978.1" y1="1101.3" x2="978.1" y2="1112" stroke="#000" stroke-width="3.4" />
<text transform="translate(986.3,1132.5) rotate(-45) scale(1,1.04)" font-size="23.8" font-weight="bold" text-anchor="end">Ctl</text>
<line x1="1029.95" y1="1101.3" x2="1029.95" y2="1112" stroke="#000" stroke-width="3.4" />
<text transform="translate(1038.15,1132.5) rotate(-45) scale(1,1.04)" font-size="23.8" font-weight="bold" text-anchor="end">GFAP</text>
<line x1="1081.16" y1="1101.3" x2="1081.16" y2="1112" stroke="#000" stroke-width="3.4" />
<text transform="translate(1089.36,1132.5) rotate(-45) scale(1,1.04)" font-size="23.8" font-weight="bold" text-anchor="end">S100B</text>
<line x1="1132.59" y1="1101.3" x2="1132.59" y2="1112" stroke="#000" stroke-width="3.4" />
<text transform="translate(1140.79,1132.5) rotate(-45) scale(1,1.04)" font-size="23.8" font-weight="bold" text-anchor="end">GJA1</text>
<line x1="1184.29" y1="1101.3" x2="1184.29" y2="1112" stroke="#000" stroke-width="3.4" />
<text transform="translate(1192.49,1132.5) rotate(-45) scale(1,1.04)" font-size="23.8" font-weight="bold" text-anchor="end">SLC1A2</text>
<line x1="1235.71" y1="1101.3" x2="1235.71" y2="1112" stroke="#000" stroke-width="3.4" />
<text transform="translate(1243.91,1132.5) rotate(-45) scale(1,1.04)" font-size="23.8" font-weight="bold" text-anchor="end">GLUL</text>
<line x1="1287.35" y1="1101.3" x2="1287.35" y2="1112" stroke="#000" stroke-width="3.4" />
<text transform="translate(1295.55,1132.5) rotate(-45) scale(1,1.04)" font-size="23.8" font-weight="bold" text-anchor="end">AQP4</text>
<line x1="1338.99" y1="1101.3" x2="1338.99" y2="1112" stroke="#000" stroke-width="3.4" />
<text transform="translate(1347.19,1132.5) rotate(-45) scale(1,1.04)" font-size="23.8" font-weight="bold" text-anchor="end">RHOU</text>
<text transform="translate(878,939.5) rotate(-90) scale(1,1.04)" font-size="26.8" font-weight="bold" text-anchor="middle">Relative expression</text>
<text transform="translate(1160,713.7) scale(1,1.04)" font-size="30.66" font-weight="bold" text-anchor="middle" >Astrocyte-specific markers</text>
<text transform="translate(1160,748.3) scale(1,1.04)" font-size="30.66" font-weight="bold" text-anchor="middle" >and function</text>
<text transform="translate(851.1,647.5) scale(1,1.04)" font-size="71.2" font-weight="bold">D</text>
<text transform="translate(1184.71,909.57) scale(1,1)" font-size="32.5" font-weight="normal" text-anchor="middle" >*</text>
<rect x="963.31" y="1617.7" width="30" height="158.9" fill="#626262"/>
<path d="M963.31 1776.6V1617.7H993.31V1776.6" fill="none" stroke="#000" stroke-width="4.6"/>
<rect x="1016.01" y="1654.1" width="30" height="122.5" fill="#9FC3EE"/>
<path d="M1016.01 1776.6V1654.1H1046.01V1776.6" fill="none" stroke="#000" stroke-width="4.6"/>
<rect x="1068.49" y="1651.35" width="30" height="125.25" fill="#B0E3F0"/>
<path d="M1068.49 1776.6V1651.35H1098.49V1776.6" fill="none" stroke="#000" stroke-width="4.6"/>
<rect x="1120.56" y="1664.68" width="30" height="111.92" fill="#C0E6B2"/>
<path d="M1120.56 1776.6V1664.68H1150.56V1776.6" fill="none" stroke="#000" stroke-width="4.6"/>
<rect x="1172.69" y="1652.71" width="30" height="123.89" fill="#AEBCA4"/>
<path d="M1172.69 1776.6V1652.71H1202.69V1776.6" fill="none" stroke="#000" stroke-width="4.6"/>
<rect x="1225.19" y="1675.33" width="30" height="101.27" fill="#979C8C"/>
<path d="M1225.19 1776.6V1675.33H1255.19V1776.6" fill="none" stroke="#000" stroke-width="4.6"/>
<rect x="1277.44" y="1645.95" width="30" height="130.65" fill="#94A8E6"/>
<path d="M1277.44 1776.6V1645.95H1307.44V1776.6" fill="none" stroke="#000" stroke-width="4.6"/>
<rect x="1329.94" y="1648.81" width="30" height="127.79" fill="#9FC3EE"/>
<path d="M1329.94 1776.6V1648.81H1359.94V1776.6" fill="none" stroke="#000" stroke-width="4.6"/>
<rect x="1382.44" y="1655.83" width="30" height="120.77" fill="#B0E3F0"/>
<path d="M1382.44 1776.6V1655.83H1412.44V1776.6" fill="none" stroke="#000" stroke-width="4.6"/>
<rect x="1434.43" y="1633.74" width="30" height="142.86" fill="#C0E6B2"/>
<path d="M1434.43 1776.6V1633.74H1464.43V1776.6" fill="none" stroke="#000" stroke-width="4.6"/>
<rect x="1487.19" y="1603.33" width="30" height="173.27" fill="#AEBCA4"/>
<path d="M1487.19 1776.6V1603.33H1517.19V1776.6" fill="none" stroke="#000" stroke-width="4.6"/>
<line x1="953.1" y1="1615" x2="1539" y2="1615" stroke="#000" stroke-width="3.3" stroke-dasharray="0.01 9.51" stroke-linecap="round"/>
<line x1="1031.01" y1="1645.87" x2="1031.01" y2="1658.57" stroke="#000" stroke-width="3.1" />
<line x1="1022.56" y1="1645.87" x2="1039.46" y2="1645.87" stroke="#000" stroke-width="3.1" />
<line x1="1022.56" y1="1658.57" x2="1039.46" y2="1658.57" stroke="#000" stroke-width="3.1" />
<line x1="1083.49" y1="1641.64" x2="1083.49" y2="1658.57" stroke="#000" stroke-width="3.1" />
<line x1="1075.04" y1="1641.64" x2="1091.94" y2="1641.64" stroke="#000" stroke-width="3.1" />
<line x1="1075.04" y1="1658.57" x2="1091.94" y2="1658.57" stroke="#000" stroke-width="3.1" />
<line x1="1135.56" y1="1651.16" x2="1135.56" y2="1673.39" stroke="#000" stroke-width="3.1" />
<line x1="1127.11" y1="1651.16" x2="1144.01" y2="1651.16" stroke="#000" stroke-width="3.1" />
<line x1="1127.11" y1="1673.39" x2="1144.01" y2="1673.39" stroke="#000" stroke-width="3.1" />
<line x1="1187.69" y1="1647.03" x2="1187.69" y2="1654.83" stroke="#000" stroke-width="3.1" />
<line x1="1179.24" y1="1647.03" x2="1196.14" y2="1647.03" stroke="#000" stroke-width="3.1" />
<line x1="1179.24" y1="1654.83" x2="1196.14" y2="1654.83" stroke="#000" stroke-width="3.1" />
<line x1="1240.19" y1="1663.15" x2="1240.19" y2="1682.12" stroke="#000" stroke-width="3.1" />
<line x1="1231.74" y1="1663.15" x2="1248.64" y2="1663.15" stroke="#000" stroke-width="3.1" />
<line x1="1231.74" y1="1682.12" x2="1248.64" y2="1682.12" stroke="#000" stroke-width="3.1" />
<line x1="1292.44" y1="1634.56" x2="1292.44" y2="1652.75" stroke="#000" stroke-width="3.1" />
<line x1="1283.99" y1="1634.56" x2="1300.89" y2="1634.56" stroke="#000" stroke-width="3.1" />
<line x1="1283.99" y1="1652.75" x2="1300.89" y2="1652.75" stroke="#000" stroke-width="3.1" />
<line x1="1344.94" y1="1627.54" x2="1344.94" y2="1666.01" stroke="#000" stroke-width="3.1" />
<line x1="1336.49" y1="1627.54" x2="1353.39" y2="1627.54" stroke="#000" stroke-width="3.1" />
<line x1="1336.49" y1="1666.01" x2="1353.39" y2="1666.01" stroke="#000" stroke-width="3.1" />
<line x1="1397.44" y1="1637.42" x2="1397.44" y2="1668.35" stroke="#000" stroke-width="3.1" />
<line x1="1388.99" y1="1637.42" x2="1405.89" y2="1637.42" stroke="#000" stroke-width="3.1" />
<line x1="1388.99" y1="1668.35" x2="1405.89" y2="1668.35" stroke="#000" stroke-width="3.1" />
<line x1="1449.43" y1="1604.67" x2="1449.43" y2="1633.44" stroke="#000" stroke-width="3.1" />
<line x1="1440.98" y1="1604.67" x2="1457.88" y2="1604.67" stroke="#000" stroke-width="3.1" />
<line x1="1502.19" y1="1577.63" x2="1502.19" y2="1624.42" stroke="#000" stroke-width="3.1" />
<line x1="1493.74" y1="1577.63" x2="1510.64" y2="1577.63" stroke="#000" stroke-width="3.1" />
<line x1="1493.74" y1="1624.42" x2="1510.64" y2="1624.42" stroke="#000" stroke-width="3.1" />
<circle cx="1019.79" cy="1634.87" r="6.6" fill="#3E86DE"/>
<circle cx="1042.43" cy="1644.18" r="6.6" fill="#3E86DE"/>
<circle cx="1019.79" cy="1653.28" r="6.6" fill="#3E86DE"/>
<circle cx="1042.43" cy="1660.05" r="6.6" fill="#3E86DE"/>
<circle cx="1019.79" cy="1670.63" r="6.6" fill="#3E86DE"/>
<circle cx="1072.28" cy="1633.6" r="6.6" fill="#62C7E2"/>
<circle cx="1086.88" cy="1640.16" r="6.6" fill="#62C7E2"/>
<circle cx="1079.05" cy="1643.76" r="6.6" fill="#62C7E2"/>
<circle cx="1094.5" cy="1645.45" r="6.6" fill="#62C7E2"/>
<circle cx="1083.49" cy="1685.03" r="6.6" fill="#62C7E2"/>
<circle cx="1135.56" cy="1632.75" r="6.6" fill="#80D068"/>
<circle cx="1135.56" cy="1648.62" r="6.6" fill="#80D068"/>
<circle cx="1124.55" cy="1661.11" r="6.6" fill="#80D068"/>
<circle cx="1146.77" cy="1671.9" r="6.6" fill="#80D068"/>
<circle cx="1135.56" cy="1696.67" r="6.6" fill="#80D068"/>
<circle cx="1176.77" cy="1644.95" r="6.6" fill="#5F8048"/>
<circle cx="1188.21" cy="1646.25" r="6.6" fill="#5F8048"/>
<circle cx="1199.38" cy="1638.72" r="6.6" fill="#5F8048"/>
<circle cx="1199.38" cy="1655.61" r="6.6" fill="#5F8048"/>
<circle cx="1176.77" cy="1663.41" r="6.6" fill="#5F8048"/>
<circle cx="1229.28" cy="1650.15" r="6.6" fill="#2D3C1C"/>
<circle cx="1251.37" cy="1656.13" r="6.6" fill="#2D3C1C"/>
<circle cx="1229.28" cy="1676.14" r="6.6" fill="#2D3C1C"/>
<circle cx="1251.37" cy="1677.44" r="6.6" fill="#2D3C1C"/>
<circle cx="1240.19" cy="1704.74" r="6.6" fill="#2D3C1C"/>
<circle cx="1292.44" cy="1615.06" r="6.6" fill="#2850D0"/>
<circle cx="1281.26" cy="1637.16" r="6.6" fill="#2850D0"/>
<circle cx="1303.87" cy="1639.24" r="6.6" fill="#2850D0"/>
<circle cx="1290.36" cy="1641.84" r="6.6" fill="#2850D0"/>
<circle cx="1296.86" cy="1645.73" r="6.6" fill="#2850D0"/>
<circle cx="1292.44" cy="1682.64" r="6.6" fill="#2850D0"/>
<circle cx="1344.94" cy="1606.75" r="6.6" fill="#3E86DE"/>
<circle cx="1333.76" cy="1628.84" r="6.6" fill="#3E86DE"/>
<circle cx="1344.94" cy="1639.24" r="6.6" fill="#3E86DE"/>
<circle cx="1356.12" cy="1638.72" r="6.6" fill="#3E86DE"/>
<circle cx="1344.94" cy="1720.59" r="6.6" fill="#3E86DE"/>
<circle cx="1397.44" cy="1616.62" r="6.6" fill="#62C7E2"/>
<circle cx="1397.44" cy="1634.04" r="6.6" fill="#62C7E2"/>
<circle cx="1386.01" cy="1647.03" r="6.6" fill="#62C7E2"/>
<circle cx="1408.62" cy="1655.61" r="6.6" fill="#62C7E2"/>
<circle cx="1397.44" cy="1709.41" r="6.6" fill="#62C7E2"/>
<circle cx="1449.43" cy="1548.78" r="6.6" fill="#80D068"/>
<circle cx="1449.43" cy="1606.75" r="6.6" fill="#80D068"/>
<circle cx="1449.43" cy="1631.44" r="6.6" fill="#80D068"/>
<circle cx="1460.61" cy="1680.04" r="6.6" fill="#80D068"/>
<circle cx="1438.51" cy="1687.84" r="6.6" fill="#80D068"/>
<circle cx="1502.19" cy="1536.57" r="6.6" fill="#5F8048"/>
<circle cx="1513.37" cy="1575.56" r="6.6" fill="#5F8048"/>
<circle cx="1491.02" cy="1587.77" r="6.6" fill="#5F8048"/>
<circle cx="1502.19" cy="1633.26" r="6.6" fill="#5F8048"/>
<circle cx="1502.19" cy="1671.21" r="6.6" fill="#5F8048"/>
<line x1="943.8" y1="1451.05" x2="943.8" y2="1779.35" stroke="#000" stroke-width="4.9" />
<line x1="929.7" y1="1776.6" x2="1539.1" y2="1776.6" stroke="#000" stroke-width="4.7" />
<text transform="translate(926.5,1785.12) scale(1,1.04)" font-size="23.8" font-weight="bold" text-anchor="end" >0.0</text>
<line x1="929.7" y1="1695.8" x2="943.8" y2="1695.8" stroke="#000" stroke-width="4.7" />
<text transform="translate(926.5,1704.32) scale(1,1.04)" font-size="23.8" font-weight="bold" text-anchor="end" >0.5</text>
<line x1="929.7" y1="1615" x2="943.8" y2="1615" stroke="#000" stroke-width="4.7" />
<text transform="translate(926.5,1623.52) scale(1,1.04)" font-size="23.8" font-weight="bold" text-anchor="end" >1.0</text>
<line x1="929.7" y1="1534.2" x2="943.8" y2="1534.2" stroke="#000" stroke-width="4.7" />
<text transform="translate(926.5,1542.72) scale(1,1.04)" font-size="23.8" font-weight="bold" text-anchor="end" >1.5</text>
<line x1="929.7" y1="1453.4" x2="943.8" y2="1453.4" stroke="#000" stroke-width="4.7" />
<text transform="translate(926.5,1461.92) scale(1,1.04)" font-size="23.8" font-weight="bold" text-anchor="end" >2.0</text>
<line x1="978.31" y1="1776.6" x2="978.31" y2="1787.3" stroke="#000" stroke-width="4.6" />
<text transform="translate(986.51,1807.8) rotate(-45) scale(1,1.04)" font-size="23.8" font-weight="bold" text-anchor="end">Ctl</text>
<line x1="1031.01" y1="1776.6" x2="1031.01" y2="1787.3" stroke="#000" stroke-width="4.6" />
<text transform="translate(1039.21,1807.8) rotate(-45) scale(1,1.04)" font-size="23.8" font-weight="bold" text-anchor="end">OPA1</text>
<line x1="1083.49" y1="1776.6" x2="1083.49" y2="1787.3" stroke="#000" stroke-width="4.6" />
<text transform="translate(1091.69,1807.8) rotate(-45) scale(1,1.04)" font-size="23.8" font-weight="bold" text-anchor="end">MFN1</text>
<line x1="1135.56" y1="1776.6" x2="1135.56" y2="1787.3" stroke="#000" stroke-width="4.6" />
<text transform="translate(1143.76,1807.8) rotate(-45) scale(1,1.04)" font-size="23.8" font-weight="bold" text-anchor="end">DNM1L</text>
<line x1="1187.69" y1="1776.6" x2="1187.69" y2="1787.3" stroke="#000" stroke-width="4.6" />
<text transform="translate(1195.89,1807.8) rotate(-45) scale(1,1.04)" font-size="23.8" font-weight="bold" text-anchor="end">CYCS</text>
<line x1="1240.19" y1="1776.6" x2="1240.19" y2="1787.3" stroke="#000" stroke-width="4.6" />
<text transform="translate(1248.39,1807.8) rotate(-45) scale(1,1.04)" font-size="23.8" font-weight="bold" text-anchor="end">VDAC1</text>
<line x1="1292.44" y1="1776.6" x2="1292.44" y2="1787.3" stroke="#000" stroke-width="4.6" />
<text transform="translate(1300.64,1807.8) rotate(-45) scale(1,1.04)" font-size="23.8" font-weight="bold" text-anchor="end">VDAC2</text>
<line x1="1344.94" y1="1776.6" x2="1344.94" y2="1787.3" stroke="#000" stroke-width="4.6" />
<text transform="translate(1353.14,1807.8) rotate(-45) scale(1,1.04)" font-size="23.8" font-weight="bold" text-anchor="end">NRF1</text>
<line x1="1397.44" y1="1776.6" x2="1397.44" y2="1787.3" stroke="#000" stroke-width="4.6" />
<text transform="translate(1405.64,1807.8) rotate(-45) scale(1,1.04)" font-size="23.8" font-weight="bold" text-anchor="end">TFAM</text>
<line x1="1449.43" y1="1776.6" x2="1449.43" y2="1787.3" stroke="#000" stroke-width="4.6" />
<text transform="translate(1457.63,1807.8) rotate(-45) scale(1,1.04)" font-size="23.8" font-weight="bold" text-anchor="end">PPARGC1</text>
<line x1="1502.19" y1="1776.6" x2="1502.19" y2="1787.3" stroke="#000" stroke-width="4.6" />
<text transform="translate(1510.39,1807.8) rotate(-45) scale(1,1.04)" font-size="23.8" font-weight="bold" text-anchor="end">SIRT1</text>
<text transform="translate(876.8,1615) rotate(-90) scale(1,1.04)" font-size="26.8" font-weight="bold" text-anchor="middle">Relative expression</text>
<text transform="translate(1240,1389.5) scale(1,1.04)" font-size="30.66" font-weight="bold" text-anchor="middle" >Mitochondrial function</text>
<text transform="translate(1240,1424.1) scale(1,1.04)" font-size="30.66" font-weight="bold" text-anchor="middle" >and dynamics</text>
<text transform="translate(842.3,1360.8) scale(0.98,1.04)" font-size="71.2" font-weight="bold">F</text>
<text transform="translate(1030.37,1600.52) scale(1,1)" font-size="32.5" font-weight="normal" text-anchor="middle" >**</text>
<text transform="translate(1081.8,1600.1) scale(1,1)" font-size="32.5" font-weight="normal" text-anchor="middle" >*</text>
<text transform="translate(1135.13,1600.1) scale(1,1)" font-size="32.5" font-weight="normal" text-anchor="middle" >*</text>
<text transform="translate(1186.91,1600.53) scale(1,1)" font-size="32.5" font-weight="normal" text-anchor="middle" >**</text>
<text transform="translate(1235.25,1600.53) scale(1,1)" font-size="32.5" font-weight="normal" text-anchor="middle" >**</text>
<text transform="translate(1291.14,1599.49) scale(1,1)" font-size="32.5" font-weight="normal" text-anchor="middle" >*</text>
<rect x="273.71" y="2210.9" width="29.3" height="158.9" fill="#626262"/>
<path d="M273.71 2369.8V2210.9H303.01V2369.8" fill="none" stroke="#000" stroke-width="4.6"/>
<rect x="325.56" y="2270.34" width="29.3" height="99.46" fill="#9FC3EE"/>
<path d="M325.56 2369.8V2270.34H354.86V2369.8" fill="none" stroke="#000" stroke-width="4.6"/>
<rect x="377.41" y="2234.58" width="29.3" height="135.22" fill="#B0E3F0"/>
<path d="M377.41 2369.8V2234.58H406.71V2369.8" fill="none" stroke="#000" stroke-width="4.6"/>
<rect x="429.05" y="2286.43" width="29.3" height="83.37" fill="#C0E6B2"/>
<path d="M429.05 2369.8V2286.43H458.35V2369.8" fill="none" stroke="#000" stroke-width="4.6"/>
<rect x="480.8" y="2220.18" width="29.3" height="149.62" fill="#AEBCA4"/>
<path d="M480.8 2369.8V2220.18H510.1V2369.8" fill="none" stroke="#000" stroke-width="4.6"/>
<rect x="532.65" y="2214.89" width="29.3" height="154.91" fill="#979C8C"/>
<path d="M532.65 2369.8V2214.89H561.95V2369.8" fill="none" stroke="#000" stroke-width="4.6"/>
<rect x="584.5" y="2229.71" width="29.3" height="140.09" fill="#94A8E6"/>
<path d="M584.5 2369.8V2229.71H613.8V2369.8" fill="none" stroke="#000" stroke-width="4.6"/>
<rect x="636.36" y="2147.59" width="29.3" height="222.21" fill="#9FC3EE"/>
<path d="M636.36 2369.8V2147.59H665.66V2369.8" fill="none" stroke="#000" stroke-width="4.6"/>
<rect x="688.21" y="2200.5" width="29.3" height="169.3" fill="#B0E3F0"/>
<path d="M688.21 2369.8V2200.5H717.51V2369.8" fill="none" stroke="#000" stroke-width="4.6"/>
<line x1="263.1" y1="2208.2" x2="742.5" y2="2208.2" stroke="#000" stroke-width="3.3" stroke-dasharray="0.01 9.51" stroke-linecap="round"/>
<line x1="340.21" y1="2245.4" x2="340.21" y2="2289.84" stroke="#000" stroke-width="3.1" />
<line x1="331.76" y1="2245.4" x2="348.66" y2="2245.4" stroke="#000" stroke-width="3.1" />
<line x1="331.76" y1="2289.84" x2="348.66" y2="2289.84" stroke="#000" stroke-width="3.1" />
<line x1="392.06" y1="2207.94" x2="392.06" y2="2255.56" stroke="#000" stroke-width="3.1" />
<line x1="383.61" y1="2207.94" x2="400.51" y2="2207.94" stroke="#000" stroke-width="3.1" />
<line x1="383.61" y1="2255.56" x2="400.51" y2="2255.56" stroke="#000" stroke-width="3.1" />
<line x1="443.7" y1="2272.28" x2="443.7" y2="2295.13" stroke="#000" stroke-width="3.1" />
<line x1="435.25" y1="2272.28" x2="452.15" y2="2272.28" stroke="#000" stroke-width="3.1" />
<line x1="435.25" y1="2295.13" x2="452.15" y2="2295.13" stroke="#000" stroke-width="3.1" />
<line x1="495.45" y1="2193.54" x2="495.45" y2="2242.65" stroke="#000" stroke-width="3.1" />
<line x1="487" y1="2193.54" x2="503.9" y2="2193.54" stroke="#000" stroke-width="3.1" />
<line x1="487" y1="2242.65" x2="503.9" y2="2242.65" stroke="#000" stroke-width="3.1" />
<line x1="547.3" y1="2187.62" x2="547.3" y2="2214.59" stroke="#000" stroke-width="3.1" />
<line x1="538.85" y1="2187.62" x2="555.75" y2="2187.62" stroke="#000" stroke-width="3.1" />
<line x1="599.15" y1="2203.07" x2="599.15" y2="2251.11" stroke="#000" stroke-width="3.1" />
<line x1="590.7" y1="2203.07" x2="607.6" y2="2203.07" stroke="#000" stroke-width="3.1" />
<line x1="590.7" y1="2251.11" x2="607.6" y2="2251.11" stroke="#000" stroke-width="3.1" />
<line x1="651.01" y1="2121.59" x2="651.01" y2="2169.21" stroke="#000" stroke-width="3.1" />
<line x1="642.56" y1="2121.59" x2="659.46" y2="2121.59" stroke="#000" stroke-width="3.1" />
<line x1="642.56" y1="2169.21" x2="659.46" y2="2169.21" stroke="#000" stroke-width="3.1" />
<line x1="702.86" y1="2180.42" x2="702.86" y2="2216.83" stroke="#000" stroke-width="3.1" />
<line x1="694.41" y1="2180.42" x2="711.31" y2="2180.42" stroke="#000" stroke-width="3.1" />
<line x1="694.41" y1="2216.83" x2="711.31" y2="2216.83" stroke="#000" stroke-width="3.1" />
<circle cx="340.21" cy="2213.65" r="6.6" fill="#3E86DE"/>
<circle cx="340.21" cy="2230.16" r="6.6" fill="#3E86DE"/>
<circle cx="340.21" cy="2254.92" r="6.6" fill="#3E86DE"/>
<circle cx="329.21" cy="2320.53" r="6.6" fill="#3E86DE"/>
<circle cx="351.01" cy="2316.93" r="6.6" fill="#3E86DE"/>
<circle cx="392.06" cy="2145.5" r="6.6" fill="#62C7E2"/>
<circle cx="380.63" cy="2235.87" r="6.6" fill="#62C7E2"/>
<circle cx="403.28" cy="2228.89" r="6.6" fill="#62C7E2"/>
<circle cx="392.06" cy="2265.08" r="6.6" fill="#62C7E2"/>
<circle cx="392.06" cy="2284.97" r="6.6" fill="#62C7E2"/>
<circle cx="443.7" cy="2248.57" r="6.6" fill="#80D068"/>
<circle cx="443.7" cy="2293.02" r="6.6" fill="#80D068"/>
<circle cx="432.28" cy="2298.94" r="6.6" fill="#80D068"/>
<circle cx="455.13" cy="2297.88" r="6.6" fill="#80D068"/>
<circle cx="495.45" cy="2147.41" r="6.6" fill="#5F8048"/>
<circle cx="495.45" cy="2184.02" r="6.6" fill="#5F8048"/>
<circle cx="495.45" cy="2217.25" r="6.6" fill="#5F8048"/>
<circle cx="495.45" cy="2255.98" r="6.6" fill="#5F8048"/>
<circle cx="495.45" cy="2285.61" r="6.6" fill="#5F8048"/>
<circle cx="547.3" cy="2147.41" r="6.6" fill="#2D3C1C"/>
<circle cx="547.3" cy="2199.47" r="6.6" fill="#2D3C1C"/>
<circle cx="536.3" cy="2252.38" r="6.6" fill="#2D3C1C"/>
<circle cx="558.52" cy="2250.69" r="6.6" fill="#2D3C1C"/>
<circle cx="588.15" cy="2185.5" r="6.6" fill="#2850D0"/>
<circle cx="610.37" cy="2188.68" r="6.6" fill="#2850D0"/>
<circle cx="599.15" cy="2195.66" r="6.6" fill="#2850D0"/>
<circle cx="599.15" cy="2260.85" r="6.6" fill="#2850D0"/>
<circle cx="599.15" cy="2305.08" r="6.6" fill="#2850D0"/>
<circle cx="651.01" cy="2092.59" r="6.6" fill="#3E86DE"/>
<circle cx="651.01" cy="2105.29" r="6.6" fill="#3E86DE"/>
<circle cx="651.01" cy="2127.94" r="6.6" fill="#3E86DE"/>
<circle cx="651.01" cy="2188.25" r="6.6" fill="#3E86DE"/>
<circle cx="651.01" cy="2213.02" r="6.6" fill="#3E86DE"/>
<circle cx="702.86" cy="2146.98" r="6.6" fill="#62C7E2"/>
<circle cx="691.85" cy="2206.24" r="6.6" fill="#62C7E2"/>
<circle cx="714.07" cy="2211.96" r="6.6" fill="#62C7E2"/>
<circle cx="702.86" cy="2228.47" r="6.6" fill="#62C7E2"/>
<line x1="253.8" y1="2044.25" x2="253.8" y2="2372.55" stroke="#000" stroke-width="4.9" />
<line x1="239.7" y1="2369.8" x2="741.6" y2="2369.8" stroke="#000" stroke-width="4.7" />
<text transform="translate(236.5,2378.32) scale(1,1.04)" font-size="23.8" font-weight="bold" text-anchor="end" >0.0</text>
<line x1="239.7" y1="2289" x2="253.8" y2="2289" stroke="#000" stroke-width="4.7" />
<text transform="translate(236.5,2297.52) scale(1,1.04)" font-size="23.8" font-weight="bold" text-anchor="end" >0.5</text>
<line x1="239.7" y1="2208.2" x2="253.8" y2="2208.2" stroke="#000" stroke-width="4.7" />
<text transform="translate(236.5,2216.72) scale(1,1.04)" font-size="23.8" font-weight="bold" text-anchor="end" >1.0</text>
<line x1="239.7" y1="2127.4" x2="253.8" y2="2127.4" stroke="#000" stroke-width="4.7" />
<text transform="translate(236.5,2135.92) scale(1,1.04)" font-size="23.8" font-weight="bold" text-anchor="end" >1.5</text>
<line x1="239.7" y1="2046.6" x2="253.8" y2="2046.6" stroke="#000" stroke-width="4.7" />
<text transform="translate(236.5,2055.12) scale(1,1.04)" font-size="23.8" font-weight="bold" text-anchor="end" >2.0</text>
<line x1="288.36" y1="2369.8" x2="288.36" y2="2380.5" stroke="#000" stroke-width="4.6" />
<text transform="translate(296.56,2401) rotate(-45) scale(1,1.04)" font-size="23.8" font-weight="bold" text-anchor="end">Ctl</text>
<line x1="340.21" y1="2369.8" x2="340.21" y2="2380.5" stroke="#000" stroke-width="4.6" />
<text transform="translate(348.41,2401) rotate(-45) scale(1,1.04)" font-size="23.8" font-weight="bold" text-anchor="end">HTR1A</text>
<line x1="392.06" y1="2369.8" x2="392.06" y2="2380.5" stroke="#000" stroke-width="4.6" />
<text transform="translate(400.26,2401) rotate(-45) scale(1,1.04)" font-size="23.8" font-weight="bold" text-anchor="end">HTR2A</text>
<line x1="443.7" y1="2369.8" x2="443.7" y2="2380.5" stroke="#000" stroke-width="4.6" />
<text transform="translate(451.9,2401) rotate(-45) scale(1,1.04)" font-size="23.8" font-weight="bold" text-anchor="end">HTR2B</text>
<line x1="495.45" y1="2369.8" x2="495.45" y2="2380.5" stroke="#000" stroke-width="4.6" />
<text transform="translate(503.65,2401) rotate(-45) scale(1,1.04)" font-size="23.8" font-weight="bold" text-anchor="end">HTR2C</text>
<line x1="547.3" y1="2369.8" x2="547.3" y2="2380.5" stroke="#000" stroke-width="4.6" />
<text transform="translate(555.5,2401) rotate(-45) scale(1,1.04)" font-size="23.8" font-weight="bold" text-anchor="end">HTR3A</text>
<line x1="599.15" y1="2369.8" x2="599.15" y2="2380.5" stroke="#000" stroke-width="4.6" />
<text transform="translate(607.35,2401) rotate(-45) scale(1,1.04)" font-size="23.8" font-weight="bold" text-anchor="end">BDNF</text>
<line x1="651.01" y1="2369.8" x2="651.01" y2="2380.5" stroke="#000" stroke-width="4.6" />
<text transform="translate(659.21,2401) rotate(-45) scale(1,1.04)" font-size="23.8" font-weight="bold" text-anchor="end">GRIN1</text>
<line x1="702.86" y1="2369.8" x2="702.86" y2="2380.5" stroke="#000" stroke-width="4.6" />
<text transform="translate(711.06,2401) rotate(-45) scale(1,1.04)" font-size="23.8" font-weight="bold" text-anchor="end">TRPV1</text>
<text transform="translate(187.3,2209.2) rotate(-90) scale(1,1.04)" font-size="26.8" font-weight="bold" text-anchor="middle">Relative expression</text>
<text transform="translate(497,1982) scale(1,1.04)" font-size="30.66" font-weight="bold" text-anchor="middle" >Neurotransmission</text>
<text transform="translate(497,2016.6) scale(1,1.04)" font-size="30.66" font-weight="bold" text-anchor="middle" >and brain function</text>
<text transform="translate(163.1,1952.4) scale(1,1.04)" font-size="71.2" font-weight="bold">G</text>
<text transform="translate(442.43,2194.33) scale(1,1)" font-size="32.5" font-weight="normal" text-anchor="middle" >**</text>
<rect x="963.34" y="2217.55" width="29.3" height="158.95" fill="#626262"/>
<path d="M963.34 2376.5V2217.55H992.64V2376.5" fill="none" stroke="#000" stroke-width="4.6"/>
<rect x="1013.07" y="2186.8" width="29.3" height="189.7" fill="#9FC3EE"/>
<path d="M1013.07 2376.5V2186.8H1042.37V2376.5" fill="none" stroke="#000" stroke-width="4.6"/>
<rect x="1063.34" y="2251.35" width="29.3" height="125.15" fill="#B0E3F0"/>
<path d="M1063.34 2376.5V2251.35H1092.64V2376.5" fill="none" stroke="#000" stroke-width="4.6"/>
<rect x="1114.13" y="2239.07" width="29.3" height="137.43" fill="#C0E6B2"/>
<path d="M1114.13 2376.5V2239.07H1143.43V2376.5" fill="none" stroke="#000" stroke-width="4.6"/>
<rect x="1164.29" y="2228.07" width="29.3" height="148.43" fill="#AEBCA4"/>
<path d="M1164.29 2376.5V2228.07H1193.59V2376.5" fill="none" stroke="#000" stroke-width="4.6"/>
<line x1="953.5" y1="2214.85" x2="1215" y2="2214.85" stroke="#000" stroke-width="3.3" stroke-dasharray="0.01 9.51" stroke-linecap="round"/>
<line x1="1027.72" y1="2166.08" x2="1027.72" y2="2203.54" stroke="#000" stroke-width="3.1" />
<line x1="1019.27" y1="2166.08" x2="1036.17" y2="2166.08" stroke="#000" stroke-width="3.1" />
<line x1="1019.27" y1="2203.54" x2="1036.17" y2="2203.54" stroke="#000" stroke-width="3.1" />
<line x1="1077.99" y1="2237.83" x2="1077.99" y2="2260.26" stroke="#000" stroke-width="3.1" />
<line x1="1069.54" y1="2237.83" x2="1086.44" y2="2237.83" stroke="#000" stroke-width="3.1" />
<line x1="1069.54" y1="2260.26" x2="1086.44" y2="2260.26" stroke="#000" stroke-width="3.1" />
<line x1="1128.78" y1="2225.13" x2="1128.78" y2="2248.41" stroke="#000" stroke-width="3.1" />
<line x1="1120.33" y1="2225.13" x2="1137.23" y2="2225.13" stroke="#000" stroke-width="3.1" />
<line x1="1120.33" y1="2248.41" x2="1137.23" y2="2248.41" stroke="#000" stroke-width="3.1" />
<circle cx="1017.67" cy="2141.11" r="6.6" fill="#3E86DE"/>
<circle cx="1038.62" cy="2133.7" r="6.6" fill="#3E86DE"/>
<circle cx="1028.04" cy="2166.08" r="6.6" fill="#3E86DE"/>
<circle cx="1017.67" cy="2205.66" r="6.6" fill="#3E86DE"/>
<circle cx="1038.62" cy="2213.7" r="6.6" fill="#3E86DE"/>
<circle cx="1028.04" cy="2247.35" r="6.6" fill="#3E86DE"/>
<circle cx="1078.41" cy="2210.53" r="6.6" fill="#62C7E2"/>
<circle cx="1078.41" cy="2243.12" r="6.6" fill="#62C7E2"/>
<circle cx="1067.83" cy="2256.88" r="6.6" fill="#62C7E2"/>
<circle cx="1088.99" cy="2257.51" r="6.6" fill="#62C7E2"/>
<circle cx="1078.41" cy="2275.5" r="6.6" fill="#62C7E2"/>
<circle cx="1128.78" cy="2203.54" r="6.6" fill="#80D068"/>
<circle cx="1128.78" cy="2220.48" r="6.6" fill="#80D068"/>
<circle cx="1117.99" cy="2242.7" r="6.6" fill="#80D068"/>
<circle cx="1139.58" cy="2247.35" r="6.6" fill="#80D068"/>
<circle cx="1128.78" cy="2270.21" r="6.6" fill="#80D068"/>
<circle cx="1168.36" cy="2224.71" r="6.6" fill="#5F8048"/>
<circle cx="1175.56" cy="2221.53" r="6.6" fill="#5F8048"/>
<circle cx="1183.17" cy="2225.13" r="6.6" fill="#5F8048"/>
<circle cx="1190.37" cy="2223.65" r="6.6" fill="#5F8048"/>
<line x1="944.2" y1="2051.55" x2="944.2" y2="2378.55" stroke="#000" stroke-width="3.5" />
<line x1="930.1" y1="2376.5" x2="1214.5" y2="2376.5" stroke="#000" stroke-width="3.3" />
<text transform="translate(926.9,2385.02) scale(1,1.04)" font-size="23.8" font-weight="bold" text-anchor="end" >0.0</text>
<line x1="930.1" y1="2295.68" x2="944.2" y2="2295.68" stroke="#000" stroke-width="3.3" />
<text transform="translate(926.9,2304.2) scale(1,1.04)" font-size="23.8" font-weight="bold" text-anchor="end" >0.5</text>
<line x1="930.1" y1="2214.85" x2="944.2" y2="2214.85" stroke="#000" stroke-width="3.3" />
<text transform="translate(926.9,2223.37) scale(1,1.04)" font-size="23.8" font-weight="bold" text-anchor="end" >1.0</text>
<line x1="930.1" y1="2134.02" x2="944.2" y2="2134.02" stroke="#000" stroke-width="3.3" />
<text transform="translate(926.9,2142.55) scale(1,1.04)" font-size="23.8" font-weight="bold" text-anchor="end" >1.5</text>
<line x1="930.1" y1="2053.2" x2="944.2" y2="2053.2" stroke="#000" stroke-width="3.3" />
<text transform="translate(926.9,2061.72) scale(1,1.04)" font-size="23.8" font-weight="bold" text-anchor="end" >2.0</text>
<line x1="977.99" y1="2376.5" x2="977.99" y2="2387.2" stroke="#000" stroke-width="3.2" />
<text transform="translate(986.19,2407.7) rotate(-45) scale(1,1.04)" font-size="23.8" font-weight="bold" text-anchor="end">Ctl</text>
<line x1="1027.72" y1="2376.5" x2="1027.72" y2="2387.2" stroke="#000" stroke-width="3.2" />
<text transform="translate(1035.92,2407.7) rotate(-45) scale(1,1.04)" font-size="23.8" font-weight="bold" text-anchor="end">MAP1LC3A</text>
<line x1="1077.99" y1="2376.5" x2="1077.99" y2="2387.2" stroke="#000" stroke-width="3.2" />
<text transform="translate(1086.19,2407.7) rotate(-45) scale(1,1.04)" font-size="23.8" font-weight="bold" text-anchor="end">CAT</text>
<line x1="1128.78" y1="2376.5" x2="1128.78" y2="2387.2" stroke="#000" stroke-width="3.2" />
<text transform="translate(1136.98,2407.7) rotate(-45) scale(1,1.04)" font-size="23.8" font-weight="bold" text-anchor="end">SOD2</text>
<line x1="1178.94" y1="2376.5" x2="1178.94" y2="2387.2" stroke="#000" stroke-width="3.2" />
<text transform="translate(1187.14,2407.7) rotate(-45) scale(1,1.04)" font-size="23.8" font-weight="bold" text-anchor="end">HIF1A</text>
<text transform="translate(878.5,2212.6) rotate(-90) scale(1,1.04)" font-size="26.1" font-weight="bold" text-anchor="middle">Relative expression</text>
<text transform="translate(1078,1988.3) scale(1,1.04)" font-size="30.66" font-weight="bold" text-anchor="middle" >Autophagy</text>
<text transform="translate(1078,2022.6) scale(1,1.04)" font-size="30.66" font-weight="bold" text-anchor="middle" >and cellular stress</text>
<text transform="translate(820.5,1953) scale(1,1.04)" font-size="71.2" font-weight="bold">H</text>
<text transform="translate(1077.35,2175.33) scale(1,1)" font-size="32.5" font-weight="normal" text-anchor="middle" >*</text>
<text transform="translate(1179.37,2174.28) scale(1,1)" font-size="32.5" font-weight="normal" text-anchor="middle" >**</text>
<rect x="437.05" y="1499.6" width="34.9" height="277.1" fill="#94A8E6"/>
<path d="M437.05 1776.7V1499.6H471.95V1776.7" fill="none" stroke="#000" stroke-width="4.6"/>
<rect x="496.65" y="1663" width="34.9" height="113.7" fill="#9FC3EE"/>
<path d="M496.65 1776.7V1663H531.55V1776.7" fill="none" stroke="#000" stroke-width="4.6"/>
<rect x="556.45" y="1577.7" width="34.9" height="199" fill="#B0E3F0"/>
<path d="M556.45 1776.7V1577.7H591.35V1776.7" fill="none" stroke="#000" stroke-width="4.6"/>
<line x1="424" y1="1746.72" x2="607" y2="1746.72" stroke="#000" stroke-width="3.3" stroke-dasharray="0.01 9.51" stroke-linecap="round"/>
<rect x="424" y="1602.5" width="200" height="24" fill="#fff"/>
<line x1="454.5" y1="1492.9" x2="454.5" y2="1499.4" stroke="#000" stroke-width="3" />
<line x1="446" y1="1492.9" x2="463" y2="1492.9" stroke="#000" stroke-width="3" />
<line x1="514.1" y1="1652.65" x2="514.1" y2="1669.15" stroke="#000" stroke-width="3" />
<line x1="504.6" y1="1652.65" x2="523.6" y2="1652.65" stroke="#000" stroke-width="3" />
<line x1="504.6" y1="1669.15" x2="523.6" y2="1669.15" stroke="#000" stroke-width="3" />
<line x1="573.9" y1="1553.39" x2="573.9" y2="1596.77" stroke="#000" stroke-width="3" />
<line x1="564.4" y1="1553.39" x2="583.4" y2="1553.39" stroke="#000" stroke-width="3" />
<line x1="564.4" y1="1596.77" x2="583.4" y2="1596.77" stroke="#000" stroke-width="3" />
<circle cx="441.11" cy="1500.26" r="6.6" fill="#2850D0"/>
<circle cx="468.2" cy="1493.07" r="6.6" fill="#2850D0"/>
<circle cx="514.13" cy="1652.22" r="6.6" fill="#3E86DE"/>
<circle cx="514.13" cy="1669.15" r="6.6" fill="#3E86DE"/>
<circle cx="573.39" cy="1553.81" r="6.6" fill="#62C7E2"/>
<circle cx="573.39" cy="1596.77" r="6.6" fill="#62C7E2"/>
<line x1="415.1" y1="1450.75" x2="415.1" y2="1603" stroke="#000" stroke-width="3.3" />
<line x1="415.1" y1="1626.8" x2="415.1" y2="1778.35" stroke="#000" stroke-width="3.3" />
<line x1="407.2" y1="1603" x2="422.5" y2="1603" stroke="#000" stroke-width="3.3" />
<line x1="407.2" y1="1626.8" x2="422.5" y2="1626.8" stroke="#000" stroke-width="3.3" />
<line x1="402" y1="1776.7" x2="614.7" y2="1776.7" stroke="#000" stroke-width="3.3" />
<line x1="402" y1="1452.4" x2="415.1" y2="1452.4" stroke="#000" stroke-width="3.3" />
<text transform="translate(397.6,1460.92) scale(1,1.04)" font-size="23.8" font-weight="bold" text-anchor="end" >200</text>
<line x1="402" y1="1492.13" x2="415.1" y2="1492.13" stroke="#000" stroke-width="3.3" />
<text transform="translate(397.6,1500.65) scale(1,1.04)" font-size="23.8" font-weight="bold" text-anchor="end" >150</text>
<line x1="402" y1="1531.87" x2="415.1" y2="1531.87" stroke="#000" stroke-width="3.3" />
<text transform="translate(397.6,1540.39) scale(1,1.04)" font-size="23.8" font-weight="bold" text-anchor="end" >100</text>
<line x1="402" y1="1571.6" x2="415.1" y2="1571.6" stroke="#000" stroke-width="3.3" />
<text transform="translate(397.6,1580.12) scale(1,1.04)" font-size="23.8" font-weight="bold" text-anchor="end" >50</text>
<text transform="translate(397.6,1785.22) scale(1,1.04)" font-size="23.8" font-weight="bold" text-anchor="end" >0</text>
<line x1="402" y1="1746.72" x2="415.1" y2="1746.72" stroke="#000" stroke-width="3.3" />
<text transform="translate(397.6,1755.24) scale(1,1.04)" font-size="23.8" font-weight="bold" text-anchor="end" >1</text>
<line x1="402" y1="1716.74" x2="415.1" y2="1716.74" stroke="#000" stroke-width="3.3" />
<text transform="translate(397.6,1725.26) scale(1,1.04)" font-size="23.8" font-weight="bold" text-anchor="end" >2</text>
<line x1="402" y1="1686.76" x2="415.1" y2="1686.76" stroke="#000" stroke-width="3.3" />
<text transform="translate(397.6,1695.28) scale(1,1.04)" font-size="23.8" font-weight="bold" text-anchor="end" >3</text>
<line x1="402" y1="1656.78" x2="415.1" y2="1656.78" stroke="#000" stroke-width="3.3" />
<text transform="translate(397.6,1665.3) scale(1,1.04)" font-size="23.8" font-weight="bold" text-anchor="end" >4</text>
<text transform="translate(397.6,1635.32) scale(1,1.04)" font-size="23.8" font-weight="bold" text-anchor="end" >5</text>
<line x1="454.5" y1="1776.7" x2="454.5" y2="1785.6" stroke="#000" stroke-width="3.3" />
<text transform="translate(462.7,1807.9) rotate(-45) scale(1,1.04)" font-size="23.8" font-weight="bold" text-anchor="end">HTR1A</text>
<line x1="514.1" y1="1776.7" x2="514.1" y2="1785.6" stroke="#000" stroke-width="3.3" />
<text transform="translate(522.3,1807.9) rotate(-45) scale(1,1.04)" font-size="23.8" font-weight="bold" text-anchor="end">HTR2A</text>
<line x1="573.9" y1="1776.7" x2="573.9" y2="1785.6" stroke="#000" stroke-width="3.3" />
<text transform="translate(582.1,1807.9) rotate(-45) scale(1,1.04)" font-size="23.8" font-weight="bold" text-anchor="end">HTR3A</text>
<text transform="translate(312.7,1614.55) rotate(-90) scale(1,1.04)" font-size="26.45" font-weight="bold" text-anchor="middle">Relative expression</text>
<text transform="translate(343,1614.55) rotate(-90) scale(1,1.04)" font-size="26.55" font-weight="bold" text-anchor="middle">normalized to astrocytes</text>
<text transform="translate(513.8,1375) scale(1,1.04)" font-size="30.66" font-weight="bold" text-anchor="middle" >HTR expression</text>
<text transform="translate(518,1410) scale(1,1.04)" font-size="30.66" font-weight="bold" text-anchor="middle" >neurons/astrocytes</text>
<text transform="translate(187.6,1367.4) scale(0.97,1.04)" font-size="78.3" font-weight="bold">E</text>
<text transform="translate(455.29,1483.06) scale(1,1)" font-size="32.5" font-weight="normal" text-anchor="middle" >*</text>
</svg>
</body>
</html>
